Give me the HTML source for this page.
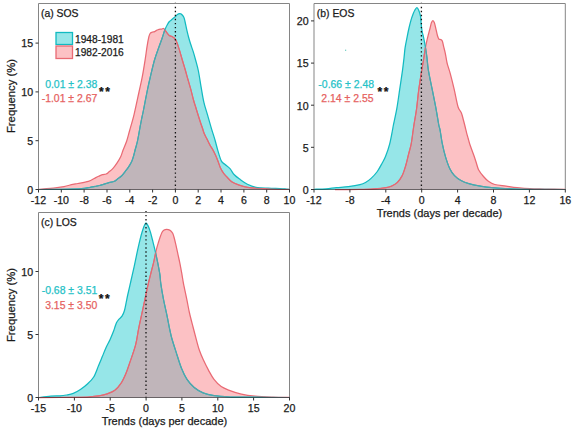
<!DOCTYPE html>
<html><head><meta charset="utf-8"><style>
html,body{margin:0;padding:0;background:#fff;}
svg{display:block;font-family:"Liberation Sans",sans-serif;}
</style></head><body>
<svg width="575" height="434" viewBox="0 0 575 434">
<rect width="575" height="434" fill="#fff"/>
<clipPath id="clipa"><path d="M38.50,189.30 C41.32,189.05 51.13,188.25 55.40,187.80 C59.67,187.35 61.20,187.18 64.10,186.60 C67.00,186.02 70.48,184.82 72.80,184.30 C75.12,183.78 75.40,183.98 78.00,183.50 C80.60,183.02 85.57,182.30 88.40,181.40 C91.23,180.50 93.28,178.95 95.00,178.10 C96.72,177.25 97.47,176.87 98.70,176.30 C99.93,175.73 101.17,175.08 102.40,174.70 C103.63,174.32 105.03,174.43 106.10,174.00 C107.17,173.57 107.65,173.03 108.80,172.10 C109.95,171.17 111.62,169.93 113.00,168.40 C114.38,166.87 115.80,164.88 117.10,162.90 C118.40,160.92 119.80,158.65 120.80,156.50 C121.80,154.35 122.12,152.58 123.10,150.00 C124.08,147.42 125.63,144.17 126.70,141.00 C127.77,137.83 128.27,135.45 129.50,131.00 C130.73,126.55 132.52,120.80 134.10,114.30 C135.68,107.80 137.63,98.27 139.00,92.00 C140.37,85.73 141.23,82.37 142.30,76.70 C143.37,71.03 144.62,62.98 145.40,58.00 C146.18,53.02 146.42,50.35 147.00,46.80 C147.58,43.25 148.38,38.92 148.90,36.70 C149.42,34.48 149.58,34.23 150.10,33.50 C150.62,32.77 151.25,32.62 152.00,32.30 C152.75,31.98 153.85,31.92 154.60,31.60 C155.35,31.28 155.77,30.78 156.50,30.40 C157.23,30.02 158.15,29.52 159.00,29.30 C159.85,29.08 160.85,29.23 161.60,29.10 C162.35,28.97 162.98,28.40 163.50,28.50 C164.02,28.60 164.18,29.07 164.70,29.70 C165.22,30.33 165.85,31.35 166.60,32.30 C167.35,33.25 168.35,34.72 169.20,35.40 C170.05,36.08 170.87,35.97 171.70,36.40 C172.53,36.83 173.47,37.32 174.20,38.00 C174.93,38.68 175.47,39.23 176.10,40.50 C176.73,41.77 177.35,43.70 178.00,45.60 C178.65,47.50 179.28,49.50 180.00,51.90 C180.72,54.30 181.42,56.98 182.30,60.00 C183.18,63.02 184.38,66.83 185.30,70.00 C186.22,73.17 186.88,75.77 187.80,79.00 C188.72,82.23 189.85,85.90 190.80,89.40 C191.75,92.90 192.67,96.98 193.50,100.00 C194.33,103.02 195.03,105.00 195.80,107.50 C196.57,110.00 197.32,112.50 198.10,115.00 C198.88,117.50 199.78,120.33 200.50,122.50 C201.22,124.67 201.78,126.17 202.40,128.00 C203.02,129.83 203.43,131.65 204.20,133.50 C204.97,135.35 206.08,137.25 207.00,139.10 C207.92,140.95 208.70,142.77 209.70,144.60 C210.70,146.43 212.00,148.27 213.00,150.10 C214.00,151.93 214.87,153.75 215.70,155.60 C216.53,157.45 217.20,159.13 218.00,161.20 C218.80,163.27 219.62,166.07 220.50,168.00 C221.38,169.93 222.30,171.38 223.30,172.80 C224.30,174.22 225.10,175.02 226.50,176.50 C227.90,177.98 229.67,180.30 231.70,181.70 C233.73,183.10 236.08,183.97 238.70,184.90 C241.32,185.83 243.92,186.73 247.40,187.30 C250.88,187.87 254.67,188.02 259.60,188.30 C264.53,188.58 272.02,188.83 277.00,189.00 C281.98,189.17 287.42,189.25 289.50,189.30 L289.50,190.00 L38.50,190.00 Z"/></clipPath>
<clipPath id="clipca"><path d="M38.50,189.50 C42.08,189.47 52.83,189.43 60.00,189.30 C67.17,189.17 76.47,189.03 81.50,188.70 C86.53,188.37 87.95,187.68 90.20,187.30 C92.45,186.92 93.43,186.70 95.00,186.40 C96.57,186.10 98.07,185.88 99.60,185.50 C101.13,185.12 102.67,184.57 104.20,184.10 C105.73,183.63 107.10,183.17 108.80,182.70 C110.50,182.23 112.87,181.98 114.40,181.30 C115.93,180.62 116.78,179.52 118.00,178.60 C119.22,177.68 120.47,177.03 121.70,175.80 C122.93,174.57 124.17,172.82 125.40,171.20 C126.63,169.58 128.02,167.78 129.10,166.10 C130.18,164.42 131.13,162.87 131.90,161.10 C132.67,159.33 133.17,157.35 133.70,155.50 C134.23,153.65 134.63,151.75 135.10,150.00 C135.57,148.25 136.07,146.67 136.50,145.00 C136.93,143.33 137.13,142.83 137.70,140.00 C138.27,137.17 139.28,131.33 139.90,128.00 C140.52,124.67 140.80,123.00 141.40,120.00 C142.00,117.00 142.53,114.83 143.50,110.00 C144.47,105.17 146.07,96.50 147.20,91.00 C148.33,85.50 149.08,82.17 150.30,77.00 C151.52,71.83 153.05,65.03 154.50,60.00 C155.95,54.97 157.72,50.47 159.00,46.80 C160.28,43.13 161.35,40.47 162.20,38.00 C163.05,35.53 163.57,33.58 164.10,32.00 C164.63,30.42 164.87,29.72 165.40,28.50 C165.93,27.28 166.63,25.87 167.30,24.70 C167.97,23.53 168.77,22.25 169.40,21.50 C170.03,20.75 170.47,20.73 171.10,20.20 C171.73,19.67 172.47,18.93 173.20,18.30 C173.93,17.67 174.80,17.03 175.50,16.40 C176.20,15.77 176.72,14.97 177.40,14.50 C178.08,14.03 178.97,13.67 179.60,13.60 C180.23,13.53 180.52,13.53 181.20,14.10 C181.88,14.67 183.07,15.77 183.70,17.00 C184.33,18.23 184.47,19.27 185.00,21.50 C185.53,23.73 186.27,27.65 186.90,30.40 C187.53,33.15 188.17,35.68 188.80,38.00 C189.43,40.32 189.95,41.98 190.70,44.30 C191.45,46.62 192.48,49.28 193.30,51.90 C194.12,54.52 194.75,56.82 195.60,60.00 C196.45,63.18 197.47,66.40 198.40,71.00 C199.33,75.60 200.28,82.38 201.20,87.60 C202.12,92.82 202.83,97.70 203.90,102.30 C204.97,106.90 206.37,110.90 207.60,115.20 C208.83,119.50 210.07,123.97 211.30,128.10 C212.53,132.23 213.92,136.28 215.00,140.00 C216.08,143.72 216.75,146.92 217.80,150.40 C218.85,153.88 220.13,158.58 221.30,160.90 C222.47,163.22 223.35,163.00 224.80,164.30 C226.25,165.60 228.42,166.95 230.00,168.70 C231.58,170.45 232.57,172.97 234.30,174.80 C236.03,176.63 238.22,178.12 240.40,179.70 C242.58,181.28 244.78,183.03 247.40,184.30 C250.02,185.57 252.62,186.65 256.10,187.30 C259.58,187.95 264.32,187.98 268.30,188.20 C272.28,188.42 277.05,188.47 280.00,188.60 C282.95,188.73 284.42,188.88 286.00,189.00 C287.58,189.12 288.92,189.25 289.50,189.30 L289.50,190.00 L38.50,190.00 Z"/></clipPath>
<path d="M38.50,189.30 C41.32,189.05 51.13,188.25 55.40,187.80 C59.67,187.35 61.20,187.18 64.10,186.60 C67.00,186.02 70.48,184.82 72.80,184.30 C75.12,183.78 75.40,183.98 78.00,183.50 C80.60,183.02 85.57,182.30 88.40,181.40 C91.23,180.50 93.28,178.95 95.00,178.10 C96.72,177.25 97.47,176.87 98.70,176.30 C99.93,175.73 101.17,175.08 102.40,174.70 C103.63,174.32 105.03,174.43 106.10,174.00 C107.17,173.57 107.65,173.03 108.80,172.10 C109.95,171.17 111.62,169.93 113.00,168.40 C114.38,166.87 115.80,164.88 117.10,162.90 C118.40,160.92 119.80,158.65 120.80,156.50 C121.80,154.35 122.12,152.58 123.10,150.00 C124.08,147.42 125.63,144.17 126.70,141.00 C127.77,137.83 128.27,135.45 129.50,131.00 C130.73,126.55 132.52,120.80 134.10,114.30 C135.68,107.80 137.63,98.27 139.00,92.00 C140.37,85.73 141.23,82.37 142.30,76.70 C143.37,71.03 144.62,62.98 145.40,58.00 C146.18,53.02 146.42,50.35 147.00,46.80 C147.58,43.25 148.38,38.92 148.90,36.70 C149.42,34.48 149.58,34.23 150.10,33.50 C150.62,32.77 151.25,32.62 152.00,32.30 C152.75,31.98 153.85,31.92 154.60,31.60 C155.35,31.28 155.77,30.78 156.50,30.40 C157.23,30.02 158.15,29.52 159.00,29.30 C159.85,29.08 160.85,29.23 161.60,29.10 C162.35,28.97 162.98,28.40 163.50,28.50 C164.02,28.60 164.18,29.07 164.70,29.70 C165.22,30.33 165.85,31.35 166.60,32.30 C167.35,33.25 168.35,34.72 169.20,35.40 C170.05,36.08 170.87,35.97 171.70,36.40 C172.53,36.83 173.47,37.32 174.20,38.00 C174.93,38.68 175.47,39.23 176.10,40.50 C176.73,41.77 177.35,43.70 178.00,45.60 C178.65,47.50 179.28,49.50 180.00,51.90 C180.72,54.30 181.42,56.98 182.30,60.00 C183.18,63.02 184.38,66.83 185.30,70.00 C186.22,73.17 186.88,75.77 187.80,79.00 C188.72,82.23 189.85,85.90 190.80,89.40 C191.75,92.90 192.67,96.98 193.50,100.00 C194.33,103.02 195.03,105.00 195.80,107.50 C196.57,110.00 197.32,112.50 198.10,115.00 C198.88,117.50 199.78,120.33 200.50,122.50 C201.22,124.67 201.78,126.17 202.40,128.00 C203.02,129.83 203.43,131.65 204.20,133.50 C204.97,135.35 206.08,137.25 207.00,139.10 C207.92,140.95 208.70,142.77 209.70,144.60 C210.70,146.43 212.00,148.27 213.00,150.10 C214.00,151.93 214.87,153.75 215.70,155.60 C216.53,157.45 217.20,159.13 218.00,161.20 C218.80,163.27 219.62,166.07 220.50,168.00 C221.38,169.93 222.30,171.38 223.30,172.80 C224.30,174.22 225.10,175.02 226.50,176.50 C227.90,177.98 229.67,180.30 231.70,181.70 C233.73,183.10 236.08,183.97 238.70,184.90 C241.32,185.83 243.92,186.73 247.40,187.30 C250.88,187.87 254.67,188.02 259.60,188.30 C264.53,188.58 272.02,188.83 277.00,189.00 C281.98,189.17 287.42,189.25 289.50,189.30 L289.50,190.00 L38.50,190.00 Z" fill="#fcc1c4"/>
<path d="M38.50,189.50 C42.08,189.47 52.83,189.43 60.00,189.30 C67.17,189.17 76.47,189.03 81.50,188.70 C86.53,188.37 87.95,187.68 90.20,187.30 C92.45,186.92 93.43,186.70 95.00,186.40 C96.57,186.10 98.07,185.88 99.60,185.50 C101.13,185.12 102.67,184.57 104.20,184.10 C105.73,183.63 107.10,183.17 108.80,182.70 C110.50,182.23 112.87,181.98 114.40,181.30 C115.93,180.62 116.78,179.52 118.00,178.60 C119.22,177.68 120.47,177.03 121.70,175.80 C122.93,174.57 124.17,172.82 125.40,171.20 C126.63,169.58 128.02,167.78 129.10,166.10 C130.18,164.42 131.13,162.87 131.90,161.10 C132.67,159.33 133.17,157.35 133.70,155.50 C134.23,153.65 134.63,151.75 135.10,150.00 C135.57,148.25 136.07,146.67 136.50,145.00 C136.93,143.33 137.13,142.83 137.70,140.00 C138.27,137.17 139.28,131.33 139.90,128.00 C140.52,124.67 140.80,123.00 141.40,120.00 C142.00,117.00 142.53,114.83 143.50,110.00 C144.47,105.17 146.07,96.50 147.20,91.00 C148.33,85.50 149.08,82.17 150.30,77.00 C151.52,71.83 153.05,65.03 154.50,60.00 C155.95,54.97 157.72,50.47 159.00,46.80 C160.28,43.13 161.35,40.47 162.20,38.00 C163.05,35.53 163.57,33.58 164.10,32.00 C164.63,30.42 164.87,29.72 165.40,28.50 C165.93,27.28 166.63,25.87 167.30,24.70 C167.97,23.53 168.77,22.25 169.40,21.50 C170.03,20.75 170.47,20.73 171.10,20.20 C171.73,19.67 172.47,18.93 173.20,18.30 C173.93,17.67 174.80,17.03 175.50,16.40 C176.20,15.77 176.72,14.97 177.40,14.50 C178.08,14.03 178.97,13.67 179.60,13.60 C180.23,13.53 180.52,13.53 181.20,14.10 C181.88,14.67 183.07,15.77 183.70,17.00 C184.33,18.23 184.47,19.27 185.00,21.50 C185.53,23.73 186.27,27.65 186.90,30.40 C187.53,33.15 188.17,35.68 188.80,38.00 C189.43,40.32 189.95,41.98 190.70,44.30 C191.45,46.62 192.48,49.28 193.30,51.90 C194.12,54.52 194.75,56.82 195.60,60.00 C196.45,63.18 197.47,66.40 198.40,71.00 C199.33,75.60 200.28,82.38 201.20,87.60 C202.12,92.82 202.83,97.70 203.90,102.30 C204.97,106.90 206.37,110.90 207.60,115.20 C208.83,119.50 210.07,123.97 211.30,128.10 C212.53,132.23 213.92,136.28 215.00,140.00 C216.08,143.72 216.75,146.92 217.80,150.40 C218.85,153.88 220.13,158.58 221.30,160.90 C222.47,163.22 223.35,163.00 224.80,164.30 C226.25,165.60 228.42,166.95 230.00,168.70 C231.58,170.45 232.57,172.97 234.30,174.80 C236.03,176.63 238.22,178.12 240.40,179.70 C242.58,181.28 244.78,183.03 247.40,184.30 C250.02,185.57 252.62,186.65 256.10,187.30 C259.58,187.95 264.32,187.98 268.30,188.20 C272.28,188.42 277.05,188.47 280.00,188.60 C282.95,188.73 284.42,188.88 286.00,189.00 C287.58,189.12 288.92,189.25 289.50,189.30 L289.50,190.00 L38.50,190.00 Z" fill="#96e6e8"/>
<path d="M38.50,189.50 C42.08,189.47 52.83,189.43 60.00,189.30 C67.17,189.17 76.47,189.03 81.50,188.70 C86.53,188.37 87.95,187.68 90.20,187.30 C92.45,186.92 93.43,186.70 95.00,186.40 C96.57,186.10 98.07,185.88 99.60,185.50 C101.13,185.12 102.67,184.57 104.20,184.10 C105.73,183.63 107.10,183.17 108.80,182.70 C110.50,182.23 112.87,181.98 114.40,181.30 C115.93,180.62 116.78,179.52 118.00,178.60 C119.22,177.68 120.47,177.03 121.70,175.80 C122.93,174.57 124.17,172.82 125.40,171.20 C126.63,169.58 128.02,167.78 129.10,166.10 C130.18,164.42 131.13,162.87 131.90,161.10 C132.67,159.33 133.17,157.35 133.70,155.50 C134.23,153.65 134.63,151.75 135.10,150.00 C135.57,148.25 136.07,146.67 136.50,145.00 C136.93,143.33 137.13,142.83 137.70,140.00 C138.27,137.17 139.28,131.33 139.90,128.00 C140.52,124.67 140.80,123.00 141.40,120.00 C142.00,117.00 142.53,114.83 143.50,110.00 C144.47,105.17 146.07,96.50 147.20,91.00 C148.33,85.50 149.08,82.17 150.30,77.00 C151.52,71.83 153.05,65.03 154.50,60.00 C155.95,54.97 157.72,50.47 159.00,46.80 C160.28,43.13 161.35,40.47 162.20,38.00 C163.05,35.53 163.57,33.58 164.10,32.00 C164.63,30.42 164.87,29.72 165.40,28.50 C165.93,27.28 166.63,25.87 167.30,24.70 C167.97,23.53 168.77,22.25 169.40,21.50 C170.03,20.75 170.47,20.73 171.10,20.20 C171.73,19.67 172.47,18.93 173.20,18.30 C173.93,17.67 174.80,17.03 175.50,16.40 C176.20,15.77 176.72,14.97 177.40,14.50 C178.08,14.03 178.97,13.67 179.60,13.60 C180.23,13.53 180.52,13.53 181.20,14.10 C181.88,14.67 183.07,15.77 183.70,17.00 C184.33,18.23 184.47,19.27 185.00,21.50 C185.53,23.73 186.27,27.65 186.90,30.40 C187.53,33.15 188.17,35.68 188.80,38.00 C189.43,40.32 189.95,41.98 190.70,44.30 C191.45,46.62 192.48,49.28 193.30,51.90 C194.12,54.52 194.75,56.82 195.60,60.00 C196.45,63.18 197.47,66.40 198.40,71.00 C199.33,75.60 200.28,82.38 201.20,87.60 C202.12,92.82 202.83,97.70 203.90,102.30 C204.97,106.90 206.37,110.90 207.60,115.20 C208.83,119.50 210.07,123.97 211.30,128.10 C212.53,132.23 213.92,136.28 215.00,140.00 C216.08,143.72 216.75,146.92 217.80,150.40 C218.85,153.88 220.13,158.58 221.30,160.90 C222.47,163.22 223.35,163.00 224.80,164.30 C226.25,165.60 228.42,166.95 230.00,168.70 C231.58,170.45 232.57,172.97 234.30,174.80 C236.03,176.63 238.22,178.12 240.40,179.70 C242.58,181.28 244.78,183.03 247.40,184.30 C250.02,185.57 252.62,186.65 256.10,187.30 C259.58,187.95 264.32,187.98 268.30,188.20 C272.28,188.42 277.05,188.47 280.00,188.60 C282.95,188.73 284.42,188.88 286.00,189.00 C287.58,189.12 288.92,189.25 289.50,189.30 L289.50,190.00 L38.50,190.00 Z" fill="#c0b5ba" clip-path="url(#clipa)"/>
<path d="M38.50,189.30 C41.32,189.05 51.13,188.25 55.40,187.80 C59.67,187.35 61.20,187.18 64.10,186.60 C67.00,186.02 70.48,184.82 72.80,184.30 C75.12,183.78 75.40,183.98 78.00,183.50 C80.60,183.02 85.57,182.30 88.40,181.40 C91.23,180.50 93.28,178.95 95.00,178.10 C96.72,177.25 97.47,176.87 98.70,176.30 C99.93,175.73 101.17,175.08 102.40,174.70 C103.63,174.32 105.03,174.43 106.10,174.00 C107.17,173.57 107.65,173.03 108.80,172.10 C109.95,171.17 111.62,169.93 113.00,168.40 C114.38,166.87 115.80,164.88 117.10,162.90 C118.40,160.92 119.80,158.65 120.80,156.50 C121.80,154.35 122.12,152.58 123.10,150.00 C124.08,147.42 125.63,144.17 126.70,141.00 C127.77,137.83 128.27,135.45 129.50,131.00 C130.73,126.55 132.52,120.80 134.10,114.30 C135.68,107.80 137.63,98.27 139.00,92.00 C140.37,85.73 141.23,82.37 142.30,76.70 C143.37,71.03 144.62,62.98 145.40,58.00 C146.18,53.02 146.42,50.35 147.00,46.80 C147.58,43.25 148.38,38.92 148.90,36.70 C149.42,34.48 149.58,34.23 150.10,33.50 C150.62,32.77 151.25,32.62 152.00,32.30 C152.75,31.98 153.85,31.92 154.60,31.60 C155.35,31.28 155.77,30.78 156.50,30.40 C157.23,30.02 158.15,29.52 159.00,29.30 C159.85,29.08 160.85,29.23 161.60,29.10 C162.35,28.97 162.98,28.40 163.50,28.50 C164.02,28.60 164.18,29.07 164.70,29.70 C165.22,30.33 165.85,31.35 166.60,32.30 C167.35,33.25 168.35,34.72 169.20,35.40 C170.05,36.08 170.87,35.97 171.70,36.40 C172.53,36.83 173.47,37.32 174.20,38.00 C174.93,38.68 175.47,39.23 176.10,40.50 C176.73,41.77 177.35,43.70 178.00,45.60 C178.65,47.50 179.28,49.50 180.00,51.90 C180.72,54.30 181.42,56.98 182.30,60.00 C183.18,63.02 184.38,66.83 185.30,70.00 C186.22,73.17 186.88,75.77 187.80,79.00 C188.72,82.23 189.85,85.90 190.80,89.40 C191.75,92.90 192.67,96.98 193.50,100.00 C194.33,103.02 195.03,105.00 195.80,107.50 C196.57,110.00 197.32,112.50 198.10,115.00 C198.88,117.50 199.78,120.33 200.50,122.50 C201.22,124.67 201.78,126.17 202.40,128.00 C203.02,129.83 203.43,131.65 204.20,133.50 C204.97,135.35 206.08,137.25 207.00,139.10 C207.92,140.95 208.70,142.77 209.70,144.60 C210.70,146.43 212.00,148.27 213.00,150.10 C214.00,151.93 214.87,153.75 215.70,155.60 C216.53,157.45 217.20,159.13 218.00,161.20 C218.80,163.27 219.62,166.07 220.50,168.00 C221.38,169.93 222.30,171.38 223.30,172.80 C224.30,174.22 225.10,175.02 226.50,176.50 C227.90,177.98 229.67,180.30 231.70,181.70 C233.73,183.10 236.08,183.97 238.70,184.90 C241.32,185.83 243.92,186.73 247.40,187.30 C250.88,187.87 254.67,188.02 259.60,188.30 C264.53,188.58 272.02,188.83 277.00,189.00 C281.98,189.17 287.42,189.25 289.50,189.30" fill="none" stroke="#e96a74" stroke-width="1.25"/>
<path d="M38.50,189.50 C42.08,189.47 52.83,189.43 60.00,189.30 C67.17,189.17 76.47,189.03 81.50,188.70 C86.53,188.37 87.95,187.68 90.20,187.30 C92.45,186.92 93.43,186.70 95.00,186.40 C96.57,186.10 98.07,185.88 99.60,185.50 C101.13,185.12 102.67,184.57 104.20,184.10 C105.73,183.63 107.10,183.17 108.80,182.70 C110.50,182.23 112.87,181.98 114.40,181.30 C115.93,180.62 116.78,179.52 118.00,178.60 C119.22,177.68 120.47,177.03 121.70,175.80 C122.93,174.57 124.17,172.82 125.40,171.20 C126.63,169.58 128.02,167.78 129.10,166.10 C130.18,164.42 131.13,162.87 131.90,161.10 C132.67,159.33 133.17,157.35 133.70,155.50 C134.23,153.65 134.63,151.75 135.10,150.00 C135.57,148.25 136.07,146.67 136.50,145.00 C136.93,143.33 137.13,142.83 137.70,140.00 C138.27,137.17 139.28,131.33 139.90,128.00 C140.52,124.67 140.80,123.00 141.40,120.00 C142.00,117.00 142.53,114.83 143.50,110.00 C144.47,105.17 146.07,96.50 147.20,91.00 C148.33,85.50 149.08,82.17 150.30,77.00 C151.52,71.83 153.05,65.03 154.50,60.00 C155.95,54.97 157.72,50.47 159.00,46.80 C160.28,43.13 161.35,40.47 162.20,38.00 C163.05,35.53 163.57,33.58 164.10,32.00 C164.63,30.42 164.87,29.72 165.40,28.50 C165.93,27.28 166.63,25.87 167.30,24.70 C167.97,23.53 168.77,22.25 169.40,21.50 C170.03,20.75 170.47,20.73 171.10,20.20 C171.73,19.67 172.47,18.93 173.20,18.30 C173.93,17.67 174.80,17.03 175.50,16.40 C176.20,15.77 176.72,14.97 177.40,14.50 C178.08,14.03 178.97,13.67 179.60,13.60 C180.23,13.53 180.52,13.53 181.20,14.10 C181.88,14.67 183.07,15.77 183.70,17.00 C184.33,18.23 184.47,19.27 185.00,21.50 C185.53,23.73 186.27,27.65 186.90,30.40 C187.53,33.15 188.17,35.68 188.80,38.00 C189.43,40.32 189.95,41.98 190.70,44.30 C191.45,46.62 192.48,49.28 193.30,51.90 C194.12,54.52 194.75,56.82 195.60,60.00 C196.45,63.18 197.47,66.40 198.40,71.00 C199.33,75.60 200.28,82.38 201.20,87.60 C202.12,92.82 202.83,97.70 203.90,102.30 C204.97,106.90 206.37,110.90 207.60,115.20 C208.83,119.50 210.07,123.97 211.30,128.10 C212.53,132.23 213.92,136.28 215.00,140.00 C216.08,143.72 216.75,146.92 217.80,150.40 C218.85,153.88 220.13,158.58 221.30,160.90 C222.47,163.22 223.35,163.00 224.80,164.30 C226.25,165.60 228.42,166.95 230.00,168.70 C231.58,170.45 232.57,172.97 234.30,174.80 C236.03,176.63 238.22,178.12 240.40,179.70 C242.58,181.28 244.78,183.03 247.40,184.30 C250.02,185.57 252.62,186.65 256.10,187.30 C259.58,187.95 264.32,187.98 268.30,188.20 C272.28,188.42 277.05,188.47 280.00,188.60 C282.95,188.73 284.42,188.88 286.00,189.00 C287.58,189.12 288.92,189.25 289.50,189.30" fill="none" stroke="#12bac1" stroke-width="1.25"/>
<path d="M38.50,189.50 C42.08,189.47 52.83,189.43 60.00,189.30 C67.17,189.17 76.47,189.03 81.50,188.70 C86.53,188.37 87.95,187.68 90.20,187.30 C92.45,186.92 93.43,186.70 95.00,186.40 C96.57,186.10 98.07,185.88 99.60,185.50 C101.13,185.12 102.67,184.57 104.20,184.10 C105.73,183.63 107.10,183.17 108.80,182.70 C110.50,182.23 112.87,181.98 114.40,181.30 C115.93,180.62 116.78,179.52 118.00,178.60 C119.22,177.68 120.47,177.03 121.70,175.80 C122.93,174.57 124.17,172.82 125.40,171.20 C126.63,169.58 128.02,167.78 129.10,166.10 C130.18,164.42 131.13,162.87 131.90,161.10 C132.67,159.33 133.17,157.35 133.70,155.50 C134.23,153.65 134.63,151.75 135.10,150.00 C135.57,148.25 136.07,146.67 136.50,145.00 C136.93,143.33 137.13,142.83 137.70,140.00 C138.27,137.17 139.28,131.33 139.90,128.00 C140.52,124.67 140.80,123.00 141.40,120.00 C142.00,117.00 142.53,114.83 143.50,110.00 C144.47,105.17 146.07,96.50 147.20,91.00 C148.33,85.50 149.08,82.17 150.30,77.00 C151.52,71.83 153.05,65.03 154.50,60.00 C155.95,54.97 157.72,50.47 159.00,46.80 C160.28,43.13 161.35,40.47 162.20,38.00 C163.05,35.53 163.57,33.58 164.10,32.00 C164.63,30.42 164.87,29.72 165.40,28.50 C165.93,27.28 166.63,25.87 167.30,24.70 C167.97,23.53 168.77,22.25 169.40,21.50 C170.03,20.75 170.47,20.73 171.10,20.20 C171.73,19.67 172.47,18.93 173.20,18.30 C173.93,17.67 174.80,17.03 175.50,16.40 C176.20,15.77 176.72,14.97 177.40,14.50 C178.08,14.03 178.97,13.67 179.60,13.60 C180.23,13.53 180.52,13.53 181.20,14.10 C181.88,14.67 183.07,15.77 183.70,17.00 C184.33,18.23 184.47,19.27 185.00,21.50 C185.53,23.73 186.27,27.65 186.90,30.40 C187.53,33.15 188.17,35.68 188.80,38.00 C189.43,40.32 189.95,41.98 190.70,44.30 C191.45,46.62 192.48,49.28 193.30,51.90 C194.12,54.52 194.75,56.82 195.60,60.00 C196.45,63.18 197.47,66.40 198.40,71.00 C199.33,75.60 200.28,82.38 201.20,87.60 C202.12,92.82 202.83,97.70 203.90,102.30 C204.97,106.90 206.37,110.90 207.60,115.20 C208.83,119.50 210.07,123.97 211.30,128.10 C212.53,132.23 213.92,136.28 215.00,140.00 C216.08,143.72 216.75,146.92 217.80,150.40 C218.85,153.88 220.13,158.58 221.30,160.90 C222.47,163.22 223.35,163.00 224.80,164.30 C226.25,165.60 228.42,166.95 230.00,168.70 C231.58,170.45 232.57,172.97 234.30,174.80 C236.03,176.63 238.22,178.12 240.40,179.70 C242.58,181.28 244.78,183.03 247.40,184.30 C250.02,185.57 252.62,186.65 256.10,187.30 C259.58,187.95 264.32,187.98 268.30,188.20 C272.28,188.42 277.05,188.47 280.00,188.60 C282.95,188.73 284.42,188.88 286.00,189.00 C287.58,189.12 288.92,189.25 289.50,189.30" fill="none" stroke="#58a2a8" stroke-width="1.05" clip-path="url(#clipa)"/>
<path d="M38.50,189.30 C41.32,189.05 51.13,188.25 55.40,187.80 C59.67,187.35 61.20,187.18 64.10,186.60 C67.00,186.02 70.48,184.82 72.80,184.30 C75.12,183.78 75.40,183.98 78.00,183.50 C80.60,183.02 85.57,182.30 88.40,181.40 C91.23,180.50 93.28,178.95 95.00,178.10 C96.72,177.25 97.47,176.87 98.70,176.30 C99.93,175.73 101.17,175.08 102.40,174.70 C103.63,174.32 105.03,174.43 106.10,174.00 C107.17,173.57 107.65,173.03 108.80,172.10 C109.95,171.17 111.62,169.93 113.00,168.40 C114.38,166.87 115.80,164.88 117.10,162.90 C118.40,160.92 119.80,158.65 120.80,156.50 C121.80,154.35 122.12,152.58 123.10,150.00 C124.08,147.42 125.63,144.17 126.70,141.00 C127.77,137.83 128.27,135.45 129.50,131.00 C130.73,126.55 132.52,120.80 134.10,114.30 C135.68,107.80 137.63,98.27 139.00,92.00 C140.37,85.73 141.23,82.37 142.30,76.70 C143.37,71.03 144.62,62.98 145.40,58.00 C146.18,53.02 146.42,50.35 147.00,46.80 C147.58,43.25 148.38,38.92 148.90,36.70 C149.42,34.48 149.58,34.23 150.10,33.50 C150.62,32.77 151.25,32.62 152.00,32.30 C152.75,31.98 153.85,31.92 154.60,31.60 C155.35,31.28 155.77,30.78 156.50,30.40 C157.23,30.02 158.15,29.52 159.00,29.30 C159.85,29.08 160.85,29.23 161.60,29.10 C162.35,28.97 162.98,28.40 163.50,28.50 C164.02,28.60 164.18,29.07 164.70,29.70 C165.22,30.33 165.85,31.35 166.60,32.30 C167.35,33.25 168.35,34.72 169.20,35.40 C170.05,36.08 170.87,35.97 171.70,36.40 C172.53,36.83 173.47,37.32 174.20,38.00 C174.93,38.68 175.47,39.23 176.10,40.50 C176.73,41.77 177.35,43.70 178.00,45.60 C178.65,47.50 179.28,49.50 180.00,51.90 C180.72,54.30 181.42,56.98 182.30,60.00 C183.18,63.02 184.38,66.83 185.30,70.00 C186.22,73.17 186.88,75.77 187.80,79.00 C188.72,82.23 189.85,85.90 190.80,89.40 C191.75,92.90 192.67,96.98 193.50,100.00 C194.33,103.02 195.03,105.00 195.80,107.50 C196.57,110.00 197.32,112.50 198.10,115.00 C198.88,117.50 199.78,120.33 200.50,122.50 C201.22,124.67 201.78,126.17 202.40,128.00 C203.02,129.83 203.43,131.65 204.20,133.50 C204.97,135.35 206.08,137.25 207.00,139.10 C207.92,140.95 208.70,142.77 209.70,144.60 C210.70,146.43 212.00,148.27 213.00,150.10 C214.00,151.93 214.87,153.75 215.70,155.60 C216.53,157.45 217.20,159.13 218.00,161.20 C218.80,163.27 219.62,166.07 220.50,168.00 C221.38,169.93 222.30,171.38 223.30,172.80 C224.30,174.22 225.10,175.02 226.50,176.50 C227.90,177.98 229.67,180.30 231.70,181.70 C233.73,183.10 236.08,183.97 238.70,184.90 C241.32,185.83 243.92,186.73 247.40,187.30 C250.88,187.87 254.67,188.02 259.60,188.30 C264.53,188.58 272.02,188.83 277.00,189.00 C281.98,189.17 287.42,189.25 289.50,189.30" fill="none" stroke="#e26a74" stroke-width="1.05" clip-path="url(#clipca)"/>
<clipPath id="clipb"><path d="M335.00,189.60 C338.98,189.57 352.43,189.52 358.90,189.40 C365.37,189.28 369.32,189.18 373.80,188.90 C378.28,188.62 382.80,188.18 385.80,187.70 C388.80,187.22 389.88,186.87 391.80,186.00 C393.72,185.13 395.57,184.23 397.30,182.50 C399.03,180.77 400.82,178.35 402.20,175.60 C403.58,172.85 404.57,169.45 405.60,166.00 C406.63,162.55 407.47,158.60 408.40,154.90 C409.33,151.20 410.40,147.95 411.20,143.80 C412.00,139.65 412.67,133.63 413.20,130.00 C413.73,126.37 413.83,125.57 414.40,122.00 C414.97,118.43 415.87,114.03 416.60,108.60 C417.33,103.17 417.95,95.78 418.80,89.40 C419.65,83.02 420.92,75.20 421.70,70.30 C422.48,65.40 422.92,63.57 423.50,60.00 C424.08,56.43 424.65,52.05 425.20,48.90 C425.75,45.75 426.27,43.50 426.80,41.10 C427.33,38.70 427.85,36.68 428.40,34.50 C428.95,32.32 429.60,29.97 430.10,28.00 C430.60,26.03 430.93,23.95 431.40,22.70 C431.87,21.45 432.40,20.50 432.90,20.50 C433.40,20.50 433.88,21.23 434.40,22.70 C434.92,24.17 435.48,27.12 436.00,29.30 C436.52,31.48 437.02,34.17 437.50,35.80 C437.98,37.43 438.38,38.48 438.90,39.10 C439.42,39.72 440.03,39.17 440.60,39.50 C441.17,39.83 441.80,39.97 442.30,41.10 C442.80,42.23 443.12,44.33 443.60,46.30 C444.08,48.27 444.72,50.62 445.20,52.90 C445.68,55.18 446.12,58.05 446.50,60.00 C446.88,61.95 446.85,62.25 447.50,64.60 C448.15,66.95 449.28,69.97 450.40,74.10 C451.52,78.23 452.93,83.97 454.20,89.40 C455.47,94.83 456.80,102.77 458.00,106.70 C459.20,110.63 460.50,110.78 461.40,113.00 C462.30,115.22 462.77,117.67 463.40,120.00 C464.03,122.33 464.67,124.85 465.20,127.00 C465.73,129.15 466.10,130.98 466.60,132.90 C467.10,134.82 467.67,136.62 468.20,138.50 C468.73,140.38 468.85,141.37 469.80,144.20 C470.75,147.03 472.78,152.28 473.90,155.50 C475.02,158.72 475.70,161.08 476.50,163.50 C477.30,165.92 477.53,167.83 478.70,170.00 C479.87,172.17 481.88,174.62 483.50,176.50 C485.12,178.38 486.52,179.97 488.40,181.30 C490.28,182.63 491.85,183.70 494.80,184.50 C497.75,185.30 502.38,185.58 506.10,186.10 C509.82,186.62 513.12,187.17 517.10,187.60 C521.08,188.03 525.38,188.47 530.00,188.70 C534.62,188.93 538.92,188.90 544.80,189.00 C550.68,189.10 561.88,189.25 565.30,189.30 L565.30,190.00 L335.00,190.00 Z"/></clipPath>
<clipPath id="clipcb"><path d="M314.00,189.30 C316.00,189.23 322.27,189.17 326.00,188.90 C329.73,188.63 332.67,188.08 336.40,187.70 C340.13,187.32 344.47,187.12 348.40,186.60 C352.33,186.08 357.15,185.28 360.00,184.60 C362.85,183.92 363.65,183.53 365.50,182.50 C367.35,181.47 369.13,180.23 371.10,178.40 C373.07,176.57 375.47,174.03 377.30,171.50 C379.13,168.97 380.72,165.73 382.10,163.20 C383.48,160.67 384.33,159.53 385.60,156.30 C386.87,153.07 388.55,148.18 389.70,143.80 C390.85,139.42 391.88,133.13 392.50,130.00 C393.12,126.87 392.68,128.57 393.40,125.00 C394.12,121.43 395.75,114.53 396.80,108.60 C397.85,102.67 398.75,95.78 399.70,89.40 C400.65,83.02 401.78,75.53 402.50,70.30 C403.22,65.07 403.57,61.77 404.00,58.00 C404.43,54.23 404.58,51.18 405.10,47.70 C405.62,44.22 406.45,40.38 407.10,37.10 C407.75,33.82 408.35,30.83 409.00,28.00 C409.65,25.17 410.33,22.40 411.00,20.10 C411.67,17.80 412.37,15.85 413.00,14.20 C413.63,12.55 414.15,11.30 414.80,10.20 C415.45,9.10 416.25,7.60 416.90,7.60 C417.55,7.60 418.10,8.78 418.70,10.20 C419.30,11.62 420.07,13.58 420.50,16.10 C420.93,18.62 421.02,22.67 421.30,25.30 C421.58,27.93 421.83,29.93 422.20,31.90 C422.57,33.87 423.07,35.13 423.50,37.10 C423.93,39.07 424.37,41.28 424.80,43.70 C425.23,46.12 425.73,49.22 426.10,51.60 C426.47,53.98 426.62,54.88 427.00,58.00 C427.38,61.12 427.53,65.07 428.40,70.30 C429.27,75.53 430.93,83.02 432.20,89.40 C433.47,95.78 434.90,102.67 436.00,108.60 C437.10,114.53 438.13,121.48 438.80,125.00 C439.47,128.52 439.40,126.50 440.00,129.70 C440.60,132.90 441.47,139.63 442.40,144.20 C443.33,148.77 444.38,153.07 445.60,157.10 C446.82,161.13 448.22,165.32 449.70,168.40 C451.18,171.48 452.62,173.58 454.50,175.60 C456.38,177.62 458.58,179.15 461.00,180.50 C463.42,181.85 465.78,182.77 469.00,183.70 C472.22,184.63 476.53,185.45 480.30,186.10 C484.07,186.75 485.77,187.12 491.60,187.60 C497.43,188.08 508.28,188.72 515.30,189.00 C522.32,189.28 525.37,189.22 533.70,189.30 C542.03,189.38 560.03,189.47 565.30,189.50 L565.30,190.00 L314.00,190.00 Z"/></clipPath>
<path d="M335.00,189.60 C338.98,189.57 352.43,189.52 358.90,189.40 C365.37,189.28 369.32,189.18 373.80,188.90 C378.28,188.62 382.80,188.18 385.80,187.70 C388.80,187.22 389.88,186.87 391.80,186.00 C393.72,185.13 395.57,184.23 397.30,182.50 C399.03,180.77 400.82,178.35 402.20,175.60 C403.58,172.85 404.57,169.45 405.60,166.00 C406.63,162.55 407.47,158.60 408.40,154.90 C409.33,151.20 410.40,147.95 411.20,143.80 C412.00,139.65 412.67,133.63 413.20,130.00 C413.73,126.37 413.83,125.57 414.40,122.00 C414.97,118.43 415.87,114.03 416.60,108.60 C417.33,103.17 417.95,95.78 418.80,89.40 C419.65,83.02 420.92,75.20 421.70,70.30 C422.48,65.40 422.92,63.57 423.50,60.00 C424.08,56.43 424.65,52.05 425.20,48.90 C425.75,45.75 426.27,43.50 426.80,41.10 C427.33,38.70 427.85,36.68 428.40,34.50 C428.95,32.32 429.60,29.97 430.10,28.00 C430.60,26.03 430.93,23.95 431.40,22.70 C431.87,21.45 432.40,20.50 432.90,20.50 C433.40,20.50 433.88,21.23 434.40,22.70 C434.92,24.17 435.48,27.12 436.00,29.30 C436.52,31.48 437.02,34.17 437.50,35.80 C437.98,37.43 438.38,38.48 438.90,39.10 C439.42,39.72 440.03,39.17 440.60,39.50 C441.17,39.83 441.80,39.97 442.30,41.10 C442.80,42.23 443.12,44.33 443.60,46.30 C444.08,48.27 444.72,50.62 445.20,52.90 C445.68,55.18 446.12,58.05 446.50,60.00 C446.88,61.95 446.85,62.25 447.50,64.60 C448.15,66.95 449.28,69.97 450.40,74.10 C451.52,78.23 452.93,83.97 454.20,89.40 C455.47,94.83 456.80,102.77 458.00,106.70 C459.20,110.63 460.50,110.78 461.40,113.00 C462.30,115.22 462.77,117.67 463.40,120.00 C464.03,122.33 464.67,124.85 465.20,127.00 C465.73,129.15 466.10,130.98 466.60,132.90 C467.10,134.82 467.67,136.62 468.20,138.50 C468.73,140.38 468.85,141.37 469.80,144.20 C470.75,147.03 472.78,152.28 473.90,155.50 C475.02,158.72 475.70,161.08 476.50,163.50 C477.30,165.92 477.53,167.83 478.70,170.00 C479.87,172.17 481.88,174.62 483.50,176.50 C485.12,178.38 486.52,179.97 488.40,181.30 C490.28,182.63 491.85,183.70 494.80,184.50 C497.75,185.30 502.38,185.58 506.10,186.10 C509.82,186.62 513.12,187.17 517.10,187.60 C521.08,188.03 525.38,188.47 530.00,188.70 C534.62,188.93 538.92,188.90 544.80,189.00 C550.68,189.10 561.88,189.25 565.30,189.30 L565.30,190.00 L335.00,190.00 Z" fill="#fcc1c4"/>
<path d="M314.00,189.30 C316.00,189.23 322.27,189.17 326.00,188.90 C329.73,188.63 332.67,188.08 336.40,187.70 C340.13,187.32 344.47,187.12 348.40,186.60 C352.33,186.08 357.15,185.28 360.00,184.60 C362.85,183.92 363.65,183.53 365.50,182.50 C367.35,181.47 369.13,180.23 371.10,178.40 C373.07,176.57 375.47,174.03 377.30,171.50 C379.13,168.97 380.72,165.73 382.10,163.20 C383.48,160.67 384.33,159.53 385.60,156.30 C386.87,153.07 388.55,148.18 389.70,143.80 C390.85,139.42 391.88,133.13 392.50,130.00 C393.12,126.87 392.68,128.57 393.40,125.00 C394.12,121.43 395.75,114.53 396.80,108.60 C397.85,102.67 398.75,95.78 399.70,89.40 C400.65,83.02 401.78,75.53 402.50,70.30 C403.22,65.07 403.57,61.77 404.00,58.00 C404.43,54.23 404.58,51.18 405.10,47.70 C405.62,44.22 406.45,40.38 407.10,37.10 C407.75,33.82 408.35,30.83 409.00,28.00 C409.65,25.17 410.33,22.40 411.00,20.10 C411.67,17.80 412.37,15.85 413.00,14.20 C413.63,12.55 414.15,11.30 414.80,10.20 C415.45,9.10 416.25,7.60 416.90,7.60 C417.55,7.60 418.10,8.78 418.70,10.20 C419.30,11.62 420.07,13.58 420.50,16.10 C420.93,18.62 421.02,22.67 421.30,25.30 C421.58,27.93 421.83,29.93 422.20,31.90 C422.57,33.87 423.07,35.13 423.50,37.10 C423.93,39.07 424.37,41.28 424.80,43.70 C425.23,46.12 425.73,49.22 426.10,51.60 C426.47,53.98 426.62,54.88 427.00,58.00 C427.38,61.12 427.53,65.07 428.40,70.30 C429.27,75.53 430.93,83.02 432.20,89.40 C433.47,95.78 434.90,102.67 436.00,108.60 C437.10,114.53 438.13,121.48 438.80,125.00 C439.47,128.52 439.40,126.50 440.00,129.70 C440.60,132.90 441.47,139.63 442.40,144.20 C443.33,148.77 444.38,153.07 445.60,157.10 C446.82,161.13 448.22,165.32 449.70,168.40 C451.18,171.48 452.62,173.58 454.50,175.60 C456.38,177.62 458.58,179.15 461.00,180.50 C463.42,181.85 465.78,182.77 469.00,183.70 C472.22,184.63 476.53,185.45 480.30,186.10 C484.07,186.75 485.77,187.12 491.60,187.60 C497.43,188.08 508.28,188.72 515.30,189.00 C522.32,189.28 525.37,189.22 533.70,189.30 C542.03,189.38 560.03,189.47 565.30,189.50 L565.30,190.00 L314.00,190.00 Z" fill="#96e6e8"/>
<path d="M314.00,189.30 C316.00,189.23 322.27,189.17 326.00,188.90 C329.73,188.63 332.67,188.08 336.40,187.70 C340.13,187.32 344.47,187.12 348.40,186.60 C352.33,186.08 357.15,185.28 360.00,184.60 C362.85,183.92 363.65,183.53 365.50,182.50 C367.35,181.47 369.13,180.23 371.10,178.40 C373.07,176.57 375.47,174.03 377.30,171.50 C379.13,168.97 380.72,165.73 382.10,163.20 C383.48,160.67 384.33,159.53 385.60,156.30 C386.87,153.07 388.55,148.18 389.70,143.80 C390.85,139.42 391.88,133.13 392.50,130.00 C393.12,126.87 392.68,128.57 393.40,125.00 C394.12,121.43 395.75,114.53 396.80,108.60 C397.85,102.67 398.75,95.78 399.70,89.40 C400.65,83.02 401.78,75.53 402.50,70.30 C403.22,65.07 403.57,61.77 404.00,58.00 C404.43,54.23 404.58,51.18 405.10,47.70 C405.62,44.22 406.45,40.38 407.10,37.10 C407.75,33.82 408.35,30.83 409.00,28.00 C409.65,25.17 410.33,22.40 411.00,20.10 C411.67,17.80 412.37,15.85 413.00,14.20 C413.63,12.55 414.15,11.30 414.80,10.20 C415.45,9.10 416.25,7.60 416.90,7.60 C417.55,7.60 418.10,8.78 418.70,10.20 C419.30,11.62 420.07,13.58 420.50,16.10 C420.93,18.62 421.02,22.67 421.30,25.30 C421.58,27.93 421.83,29.93 422.20,31.90 C422.57,33.87 423.07,35.13 423.50,37.10 C423.93,39.07 424.37,41.28 424.80,43.70 C425.23,46.12 425.73,49.22 426.10,51.60 C426.47,53.98 426.62,54.88 427.00,58.00 C427.38,61.12 427.53,65.07 428.40,70.30 C429.27,75.53 430.93,83.02 432.20,89.40 C433.47,95.78 434.90,102.67 436.00,108.60 C437.10,114.53 438.13,121.48 438.80,125.00 C439.47,128.52 439.40,126.50 440.00,129.70 C440.60,132.90 441.47,139.63 442.40,144.20 C443.33,148.77 444.38,153.07 445.60,157.10 C446.82,161.13 448.22,165.32 449.70,168.40 C451.18,171.48 452.62,173.58 454.50,175.60 C456.38,177.62 458.58,179.15 461.00,180.50 C463.42,181.85 465.78,182.77 469.00,183.70 C472.22,184.63 476.53,185.45 480.30,186.10 C484.07,186.75 485.77,187.12 491.60,187.60 C497.43,188.08 508.28,188.72 515.30,189.00 C522.32,189.28 525.37,189.22 533.70,189.30 C542.03,189.38 560.03,189.47 565.30,189.50 L565.30,190.00 L314.00,190.00 Z" fill="#c0b5ba" clip-path="url(#clipb)"/>
<path d="M335.00,189.60 C338.98,189.57 352.43,189.52 358.90,189.40 C365.37,189.28 369.32,189.18 373.80,188.90 C378.28,188.62 382.80,188.18 385.80,187.70 C388.80,187.22 389.88,186.87 391.80,186.00 C393.72,185.13 395.57,184.23 397.30,182.50 C399.03,180.77 400.82,178.35 402.20,175.60 C403.58,172.85 404.57,169.45 405.60,166.00 C406.63,162.55 407.47,158.60 408.40,154.90 C409.33,151.20 410.40,147.95 411.20,143.80 C412.00,139.65 412.67,133.63 413.20,130.00 C413.73,126.37 413.83,125.57 414.40,122.00 C414.97,118.43 415.87,114.03 416.60,108.60 C417.33,103.17 417.95,95.78 418.80,89.40 C419.65,83.02 420.92,75.20 421.70,70.30 C422.48,65.40 422.92,63.57 423.50,60.00 C424.08,56.43 424.65,52.05 425.20,48.90 C425.75,45.75 426.27,43.50 426.80,41.10 C427.33,38.70 427.85,36.68 428.40,34.50 C428.95,32.32 429.60,29.97 430.10,28.00 C430.60,26.03 430.93,23.95 431.40,22.70 C431.87,21.45 432.40,20.50 432.90,20.50 C433.40,20.50 433.88,21.23 434.40,22.70 C434.92,24.17 435.48,27.12 436.00,29.30 C436.52,31.48 437.02,34.17 437.50,35.80 C437.98,37.43 438.38,38.48 438.90,39.10 C439.42,39.72 440.03,39.17 440.60,39.50 C441.17,39.83 441.80,39.97 442.30,41.10 C442.80,42.23 443.12,44.33 443.60,46.30 C444.08,48.27 444.72,50.62 445.20,52.90 C445.68,55.18 446.12,58.05 446.50,60.00 C446.88,61.95 446.85,62.25 447.50,64.60 C448.15,66.95 449.28,69.97 450.40,74.10 C451.52,78.23 452.93,83.97 454.20,89.40 C455.47,94.83 456.80,102.77 458.00,106.70 C459.20,110.63 460.50,110.78 461.40,113.00 C462.30,115.22 462.77,117.67 463.40,120.00 C464.03,122.33 464.67,124.85 465.20,127.00 C465.73,129.15 466.10,130.98 466.60,132.90 C467.10,134.82 467.67,136.62 468.20,138.50 C468.73,140.38 468.85,141.37 469.80,144.20 C470.75,147.03 472.78,152.28 473.90,155.50 C475.02,158.72 475.70,161.08 476.50,163.50 C477.30,165.92 477.53,167.83 478.70,170.00 C479.87,172.17 481.88,174.62 483.50,176.50 C485.12,178.38 486.52,179.97 488.40,181.30 C490.28,182.63 491.85,183.70 494.80,184.50 C497.75,185.30 502.38,185.58 506.10,186.10 C509.82,186.62 513.12,187.17 517.10,187.60 C521.08,188.03 525.38,188.47 530.00,188.70 C534.62,188.93 538.92,188.90 544.80,189.00 C550.68,189.10 561.88,189.25 565.30,189.30" fill="none" stroke="#e96a74" stroke-width="1.25"/>
<path d="M314.00,189.30 C316.00,189.23 322.27,189.17 326.00,188.90 C329.73,188.63 332.67,188.08 336.40,187.70 C340.13,187.32 344.47,187.12 348.40,186.60 C352.33,186.08 357.15,185.28 360.00,184.60 C362.85,183.92 363.65,183.53 365.50,182.50 C367.35,181.47 369.13,180.23 371.10,178.40 C373.07,176.57 375.47,174.03 377.30,171.50 C379.13,168.97 380.72,165.73 382.10,163.20 C383.48,160.67 384.33,159.53 385.60,156.30 C386.87,153.07 388.55,148.18 389.70,143.80 C390.85,139.42 391.88,133.13 392.50,130.00 C393.12,126.87 392.68,128.57 393.40,125.00 C394.12,121.43 395.75,114.53 396.80,108.60 C397.85,102.67 398.75,95.78 399.70,89.40 C400.65,83.02 401.78,75.53 402.50,70.30 C403.22,65.07 403.57,61.77 404.00,58.00 C404.43,54.23 404.58,51.18 405.10,47.70 C405.62,44.22 406.45,40.38 407.10,37.10 C407.75,33.82 408.35,30.83 409.00,28.00 C409.65,25.17 410.33,22.40 411.00,20.10 C411.67,17.80 412.37,15.85 413.00,14.20 C413.63,12.55 414.15,11.30 414.80,10.20 C415.45,9.10 416.25,7.60 416.90,7.60 C417.55,7.60 418.10,8.78 418.70,10.20 C419.30,11.62 420.07,13.58 420.50,16.10 C420.93,18.62 421.02,22.67 421.30,25.30 C421.58,27.93 421.83,29.93 422.20,31.90 C422.57,33.87 423.07,35.13 423.50,37.10 C423.93,39.07 424.37,41.28 424.80,43.70 C425.23,46.12 425.73,49.22 426.10,51.60 C426.47,53.98 426.62,54.88 427.00,58.00 C427.38,61.12 427.53,65.07 428.40,70.30 C429.27,75.53 430.93,83.02 432.20,89.40 C433.47,95.78 434.90,102.67 436.00,108.60 C437.10,114.53 438.13,121.48 438.80,125.00 C439.47,128.52 439.40,126.50 440.00,129.70 C440.60,132.90 441.47,139.63 442.40,144.20 C443.33,148.77 444.38,153.07 445.60,157.10 C446.82,161.13 448.22,165.32 449.70,168.40 C451.18,171.48 452.62,173.58 454.50,175.60 C456.38,177.62 458.58,179.15 461.00,180.50 C463.42,181.85 465.78,182.77 469.00,183.70 C472.22,184.63 476.53,185.45 480.30,186.10 C484.07,186.75 485.77,187.12 491.60,187.60 C497.43,188.08 508.28,188.72 515.30,189.00 C522.32,189.28 525.37,189.22 533.70,189.30 C542.03,189.38 560.03,189.47 565.30,189.50" fill="none" stroke="#12bac1" stroke-width="1.25"/>
<path d="M314.00,189.30 C316.00,189.23 322.27,189.17 326.00,188.90 C329.73,188.63 332.67,188.08 336.40,187.70 C340.13,187.32 344.47,187.12 348.40,186.60 C352.33,186.08 357.15,185.28 360.00,184.60 C362.85,183.92 363.65,183.53 365.50,182.50 C367.35,181.47 369.13,180.23 371.10,178.40 C373.07,176.57 375.47,174.03 377.30,171.50 C379.13,168.97 380.72,165.73 382.10,163.20 C383.48,160.67 384.33,159.53 385.60,156.30 C386.87,153.07 388.55,148.18 389.70,143.80 C390.85,139.42 391.88,133.13 392.50,130.00 C393.12,126.87 392.68,128.57 393.40,125.00 C394.12,121.43 395.75,114.53 396.80,108.60 C397.85,102.67 398.75,95.78 399.70,89.40 C400.65,83.02 401.78,75.53 402.50,70.30 C403.22,65.07 403.57,61.77 404.00,58.00 C404.43,54.23 404.58,51.18 405.10,47.70 C405.62,44.22 406.45,40.38 407.10,37.10 C407.75,33.82 408.35,30.83 409.00,28.00 C409.65,25.17 410.33,22.40 411.00,20.10 C411.67,17.80 412.37,15.85 413.00,14.20 C413.63,12.55 414.15,11.30 414.80,10.20 C415.45,9.10 416.25,7.60 416.90,7.60 C417.55,7.60 418.10,8.78 418.70,10.20 C419.30,11.62 420.07,13.58 420.50,16.10 C420.93,18.62 421.02,22.67 421.30,25.30 C421.58,27.93 421.83,29.93 422.20,31.90 C422.57,33.87 423.07,35.13 423.50,37.10 C423.93,39.07 424.37,41.28 424.80,43.70 C425.23,46.12 425.73,49.22 426.10,51.60 C426.47,53.98 426.62,54.88 427.00,58.00 C427.38,61.12 427.53,65.07 428.40,70.30 C429.27,75.53 430.93,83.02 432.20,89.40 C433.47,95.78 434.90,102.67 436.00,108.60 C437.10,114.53 438.13,121.48 438.80,125.00 C439.47,128.52 439.40,126.50 440.00,129.70 C440.60,132.90 441.47,139.63 442.40,144.20 C443.33,148.77 444.38,153.07 445.60,157.10 C446.82,161.13 448.22,165.32 449.70,168.40 C451.18,171.48 452.62,173.58 454.50,175.60 C456.38,177.62 458.58,179.15 461.00,180.50 C463.42,181.85 465.78,182.77 469.00,183.70 C472.22,184.63 476.53,185.45 480.30,186.10 C484.07,186.75 485.77,187.12 491.60,187.60 C497.43,188.08 508.28,188.72 515.30,189.00 C522.32,189.28 525.37,189.22 533.70,189.30 C542.03,189.38 560.03,189.47 565.30,189.50" fill="none" stroke="#58a2a8" stroke-width="1.05" clip-path="url(#clipb)"/>
<path d="M335.00,189.60 C338.98,189.57 352.43,189.52 358.90,189.40 C365.37,189.28 369.32,189.18 373.80,188.90 C378.28,188.62 382.80,188.18 385.80,187.70 C388.80,187.22 389.88,186.87 391.80,186.00 C393.72,185.13 395.57,184.23 397.30,182.50 C399.03,180.77 400.82,178.35 402.20,175.60 C403.58,172.85 404.57,169.45 405.60,166.00 C406.63,162.55 407.47,158.60 408.40,154.90 C409.33,151.20 410.40,147.95 411.20,143.80 C412.00,139.65 412.67,133.63 413.20,130.00 C413.73,126.37 413.83,125.57 414.40,122.00 C414.97,118.43 415.87,114.03 416.60,108.60 C417.33,103.17 417.95,95.78 418.80,89.40 C419.65,83.02 420.92,75.20 421.70,70.30 C422.48,65.40 422.92,63.57 423.50,60.00 C424.08,56.43 424.65,52.05 425.20,48.90 C425.75,45.75 426.27,43.50 426.80,41.10 C427.33,38.70 427.85,36.68 428.40,34.50 C428.95,32.32 429.60,29.97 430.10,28.00 C430.60,26.03 430.93,23.95 431.40,22.70 C431.87,21.45 432.40,20.50 432.90,20.50 C433.40,20.50 433.88,21.23 434.40,22.70 C434.92,24.17 435.48,27.12 436.00,29.30 C436.52,31.48 437.02,34.17 437.50,35.80 C437.98,37.43 438.38,38.48 438.90,39.10 C439.42,39.72 440.03,39.17 440.60,39.50 C441.17,39.83 441.80,39.97 442.30,41.10 C442.80,42.23 443.12,44.33 443.60,46.30 C444.08,48.27 444.72,50.62 445.20,52.90 C445.68,55.18 446.12,58.05 446.50,60.00 C446.88,61.95 446.85,62.25 447.50,64.60 C448.15,66.95 449.28,69.97 450.40,74.10 C451.52,78.23 452.93,83.97 454.20,89.40 C455.47,94.83 456.80,102.77 458.00,106.70 C459.20,110.63 460.50,110.78 461.40,113.00 C462.30,115.22 462.77,117.67 463.40,120.00 C464.03,122.33 464.67,124.85 465.20,127.00 C465.73,129.15 466.10,130.98 466.60,132.90 C467.10,134.82 467.67,136.62 468.20,138.50 C468.73,140.38 468.85,141.37 469.80,144.20 C470.75,147.03 472.78,152.28 473.90,155.50 C475.02,158.72 475.70,161.08 476.50,163.50 C477.30,165.92 477.53,167.83 478.70,170.00 C479.87,172.17 481.88,174.62 483.50,176.50 C485.12,178.38 486.52,179.97 488.40,181.30 C490.28,182.63 491.85,183.70 494.80,184.50 C497.75,185.30 502.38,185.58 506.10,186.10 C509.82,186.62 513.12,187.17 517.10,187.60 C521.08,188.03 525.38,188.47 530.00,188.70 C534.62,188.93 538.92,188.90 544.80,189.00 C550.68,189.10 561.88,189.25 565.30,189.30" fill="none" stroke="#e26a74" stroke-width="1.05" clip-path="url(#clipcb)"/>
<clipPath id="clipc"><path d="M38.50,397.50 C45.48,397.47 72.12,397.38 80.40,397.30 C88.68,397.22 85.08,397.25 88.20,397.00 C91.32,396.75 95.97,396.32 99.10,395.80 C102.23,395.28 104.38,394.82 107.00,393.90 C109.62,392.98 112.45,392.08 114.80,390.30 C117.15,388.52 119.27,385.95 121.10,383.20 C122.93,380.45 124.37,377.18 125.80,373.80 C127.23,370.42 128.07,367.72 129.70,362.90 C131.33,358.08 134.12,350.58 135.60,344.90 C137.08,339.22 137.53,334.12 138.60,328.80 C139.67,323.48 140.87,318.28 142.00,313.00 C143.13,307.72 144.35,302.00 145.40,297.10 C146.45,292.20 147.32,287.87 148.30,283.60 C149.28,279.33 150.40,275.08 151.30,271.50 C152.20,267.92 152.92,265.50 153.70,262.10 C154.48,258.70 155.22,254.37 156.00,251.10 C156.78,247.83 157.62,245.10 158.40,242.50 C159.18,239.90 160.00,237.35 160.70,235.50 C161.40,233.65 161.85,232.38 162.60,231.40 C163.35,230.42 164.25,229.90 165.20,229.60 C166.15,229.30 167.35,229.38 168.30,229.60 C169.25,229.82 170.17,230.28 170.90,230.90 C171.63,231.52 172.17,232.20 172.70,233.30 C173.23,234.40 173.57,235.57 174.10,237.50 C174.63,239.43 175.25,242.05 175.90,244.90 C176.55,247.75 177.30,251.37 178.00,254.60 C178.70,257.83 179.42,260.85 180.10,264.30 C180.78,267.75 181.53,272.08 182.10,275.30 C182.67,278.52 182.72,279.58 183.50,283.60 C184.28,287.62 185.80,294.50 186.80,299.40 C187.80,304.30 188.48,308.48 189.50,313.00 C190.52,317.52 191.68,321.78 192.90,326.50 C194.12,331.22 195.73,337.38 196.80,341.30 C197.87,345.22 198.23,346.95 199.30,350.00 C200.37,353.05 201.65,356.20 203.20,359.60 C204.75,363.00 206.80,367.10 208.60,370.40 C210.40,373.70 211.90,376.70 214.00,379.40 C216.10,382.10 218.53,384.73 221.20,386.60 C223.87,388.47 226.63,389.33 230.00,390.60 C233.37,391.87 237.23,393.27 241.40,394.20 C245.57,395.13 249.73,395.72 255.00,396.20 C260.27,396.68 267.25,396.90 273.00,397.10 C278.75,397.30 286.75,397.35 289.50,397.40 L289.50,398.00 L38.50,398.00 Z"/></clipPath>
<clipPath id="clipcc"><path d="M38.50,397.50 C40.53,397.28 47.12,396.48 50.70,396.20 C54.28,395.92 57.40,396.00 60.00,395.80 C62.60,395.60 64.08,395.40 66.30,395.00 C68.52,394.60 70.95,394.32 73.30,393.40 C75.65,392.48 78.05,391.07 80.40,389.50 C82.75,387.93 85.18,386.08 87.40,384.00 C89.62,381.92 91.87,380.00 93.70,377.00 C95.53,374.00 96.97,369.40 98.40,366.00 C99.83,362.60 101.00,359.73 102.30,356.60 C103.60,353.47 104.90,350.07 106.20,347.20 C107.50,344.33 108.83,342.18 110.10,339.40 C111.37,336.62 112.97,332.65 113.80,330.50 C114.63,328.35 114.63,327.83 115.10,326.50 C115.57,325.17 115.98,323.70 116.60,322.50 C117.22,321.30 117.90,320.35 118.80,319.30 C119.70,318.25 121.07,317.63 122.00,316.20 C122.93,314.77 123.70,313.00 124.40,310.70 C125.10,308.40 125.65,305.02 126.20,302.40 C126.75,299.78 126.92,298.57 127.70,295.00 C128.48,291.43 129.83,285.70 130.90,281.00 C131.97,276.30 133.18,271.00 134.10,266.80 C135.02,262.60 135.62,259.45 136.40,255.80 C137.18,252.15 138.02,248.28 138.80,244.90 C139.58,241.52 140.32,238.37 141.10,235.50 C141.88,232.63 142.72,229.78 143.50,227.70 C144.28,225.62 145.02,223.27 145.80,223.00 C146.58,222.73 147.42,224.53 148.20,226.10 C148.98,227.67 149.72,229.80 150.50,232.40 C151.28,235.00 152.12,238.58 152.90,241.70 C153.68,244.82 154.42,247.70 155.20,251.10 C155.98,254.50 156.82,258.18 157.60,262.10 C158.38,266.02 159.37,271.02 159.90,274.60 C160.43,278.18 160.20,279.47 160.80,283.60 C161.40,287.73 162.48,294.13 163.50,299.40 C164.52,304.67 165.88,310.30 166.90,315.20 C167.92,320.10 168.80,325.00 169.60,328.80 C170.40,332.60 170.60,334.07 171.70,338.00 C172.80,341.93 174.55,347.30 176.20,352.40 C177.85,357.50 179.80,364.10 181.60,368.60 C183.40,373.10 184.90,376.25 187.00,379.40 C189.10,382.55 191.50,385.25 194.20,387.50 C196.90,389.75 199.90,391.55 203.20,392.90 C206.50,394.25 209.53,394.92 214.00,395.60 C218.47,396.28 225.82,396.75 230.00,397.00 C234.18,397.25 229.18,397.02 239.10,397.10 C249.02,397.18 281.10,397.43 289.50,397.50 L289.50,398.00 L38.50,398.00 Z"/></clipPath>
<path d="M38.50,397.50 C45.48,397.47 72.12,397.38 80.40,397.30 C88.68,397.22 85.08,397.25 88.20,397.00 C91.32,396.75 95.97,396.32 99.10,395.80 C102.23,395.28 104.38,394.82 107.00,393.90 C109.62,392.98 112.45,392.08 114.80,390.30 C117.15,388.52 119.27,385.95 121.10,383.20 C122.93,380.45 124.37,377.18 125.80,373.80 C127.23,370.42 128.07,367.72 129.70,362.90 C131.33,358.08 134.12,350.58 135.60,344.90 C137.08,339.22 137.53,334.12 138.60,328.80 C139.67,323.48 140.87,318.28 142.00,313.00 C143.13,307.72 144.35,302.00 145.40,297.10 C146.45,292.20 147.32,287.87 148.30,283.60 C149.28,279.33 150.40,275.08 151.30,271.50 C152.20,267.92 152.92,265.50 153.70,262.10 C154.48,258.70 155.22,254.37 156.00,251.10 C156.78,247.83 157.62,245.10 158.40,242.50 C159.18,239.90 160.00,237.35 160.70,235.50 C161.40,233.65 161.85,232.38 162.60,231.40 C163.35,230.42 164.25,229.90 165.20,229.60 C166.15,229.30 167.35,229.38 168.30,229.60 C169.25,229.82 170.17,230.28 170.90,230.90 C171.63,231.52 172.17,232.20 172.70,233.30 C173.23,234.40 173.57,235.57 174.10,237.50 C174.63,239.43 175.25,242.05 175.90,244.90 C176.55,247.75 177.30,251.37 178.00,254.60 C178.70,257.83 179.42,260.85 180.10,264.30 C180.78,267.75 181.53,272.08 182.10,275.30 C182.67,278.52 182.72,279.58 183.50,283.60 C184.28,287.62 185.80,294.50 186.80,299.40 C187.80,304.30 188.48,308.48 189.50,313.00 C190.52,317.52 191.68,321.78 192.90,326.50 C194.12,331.22 195.73,337.38 196.80,341.30 C197.87,345.22 198.23,346.95 199.30,350.00 C200.37,353.05 201.65,356.20 203.20,359.60 C204.75,363.00 206.80,367.10 208.60,370.40 C210.40,373.70 211.90,376.70 214.00,379.40 C216.10,382.10 218.53,384.73 221.20,386.60 C223.87,388.47 226.63,389.33 230.00,390.60 C233.37,391.87 237.23,393.27 241.40,394.20 C245.57,395.13 249.73,395.72 255.00,396.20 C260.27,396.68 267.25,396.90 273.00,397.10 C278.75,397.30 286.75,397.35 289.50,397.40 L289.50,398.00 L38.50,398.00 Z" fill="#fcc1c4"/>
<path d="M38.50,397.50 C40.53,397.28 47.12,396.48 50.70,396.20 C54.28,395.92 57.40,396.00 60.00,395.80 C62.60,395.60 64.08,395.40 66.30,395.00 C68.52,394.60 70.95,394.32 73.30,393.40 C75.65,392.48 78.05,391.07 80.40,389.50 C82.75,387.93 85.18,386.08 87.40,384.00 C89.62,381.92 91.87,380.00 93.70,377.00 C95.53,374.00 96.97,369.40 98.40,366.00 C99.83,362.60 101.00,359.73 102.30,356.60 C103.60,353.47 104.90,350.07 106.20,347.20 C107.50,344.33 108.83,342.18 110.10,339.40 C111.37,336.62 112.97,332.65 113.80,330.50 C114.63,328.35 114.63,327.83 115.10,326.50 C115.57,325.17 115.98,323.70 116.60,322.50 C117.22,321.30 117.90,320.35 118.80,319.30 C119.70,318.25 121.07,317.63 122.00,316.20 C122.93,314.77 123.70,313.00 124.40,310.70 C125.10,308.40 125.65,305.02 126.20,302.40 C126.75,299.78 126.92,298.57 127.70,295.00 C128.48,291.43 129.83,285.70 130.90,281.00 C131.97,276.30 133.18,271.00 134.10,266.80 C135.02,262.60 135.62,259.45 136.40,255.80 C137.18,252.15 138.02,248.28 138.80,244.90 C139.58,241.52 140.32,238.37 141.10,235.50 C141.88,232.63 142.72,229.78 143.50,227.70 C144.28,225.62 145.02,223.27 145.80,223.00 C146.58,222.73 147.42,224.53 148.20,226.10 C148.98,227.67 149.72,229.80 150.50,232.40 C151.28,235.00 152.12,238.58 152.90,241.70 C153.68,244.82 154.42,247.70 155.20,251.10 C155.98,254.50 156.82,258.18 157.60,262.10 C158.38,266.02 159.37,271.02 159.90,274.60 C160.43,278.18 160.20,279.47 160.80,283.60 C161.40,287.73 162.48,294.13 163.50,299.40 C164.52,304.67 165.88,310.30 166.90,315.20 C167.92,320.10 168.80,325.00 169.60,328.80 C170.40,332.60 170.60,334.07 171.70,338.00 C172.80,341.93 174.55,347.30 176.20,352.40 C177.85,357.50 179.80,364.10 181.60,368.60 C183.40,373.10 184.90,376.25 187.00,379.40 C189.10,382.55 191.50,385.25 194.20,387.50 C196.90,389.75 199.90,391.55 203.20,392.90 C206.50,394.25 209.53,394.92 214.00,395.60 C218.47,396.28 225.82,396.75 230.00,397.00 C234.18,397.25 229.18,397.02 239.10,397.10 C249.02,397.18 281.10,397.43 289.50,397.50 L289.50,398.00 L38.50,398.00 Z" fill="#96e6e8"/>
<path d="M38.50,397.50 C40.53,397.28 47.12,396.48 50.70,396.20 C54.28,395.92 57.40,396.00 60.00,395.80 C62.60,395.60 64.08,395.40 66.30,395.00 C68.52,394.60 70.95,394.32 73.30,393.40 C75.65,392.48 78.05,391.07 80.40,389.50 C82.75,387.93 85.18,386.08 87.40,384.00 C89.62,381.92 91.87,380.00 93.70,377.00 C95.53,374.00 96.97,369.40 98.40,366.00 C99.83,362.60 101.00,359.73 102.30,356.60 C103.60,353.47 104.90,350.07 106.20,347.20 C107.50,344.33 108.83,342.18 110.10,339.40 C111.37,336.62 112.97,332.65 113.80,330.50 C114.63,328.35 114.63,327.83 115.10,326.50 C115.57,325.17 115.98,323.70 116.60,322.50 C117.22,321.30 117.90,320.35 118.80,319.30 C119.70,318.25 121.07,317.63 122.00,316.20 C122.93,314.77 123.70,313.00 124.40,310.70 C125.10,308.40 125.65,305.02 126.20,302.40 C126.75,299.78 126.92,298.57 127.70,295.00 C128.48,291.43 129.83,285.70 130.90,281.00 C131.97,276.30 133.18,271.00 134.10,266.80 C135.02,262.60 135.62,259.45 136.40,255.80 C137.18,252.15 138.02,248.28 138.80,244.90 C139.58,241.52 140.32,238.37 141.10,235.50 C141.88,232.63 142.72,229.78 143.50,227.70 C144.28,225.62 145.02,223.27 145.80,223.00 C146.58,222.73 147.42,224.53 148.20,226.10 C148.98,227.67 149.72,229.80 150.50,232.40 C151.28,235.00 152.12,238.58 152.90,241.70 C153.68,244.82 154.42,247.70 155.20,251.10 C155.98,254.50 156.82,258.18 157.60,262.10 C158.38,266.02 159.37,271.02 159.90,274.60 C160.43,278.18 160.20,279.47 160.80,283.60 C161.40,287.73 162.48,294.13 163.50,299.40 C164.52,304.67 165.88,310.30 166.90,315.20 C167.92,320.10 168.80,325.00 169.60,328.80 C170.40,332.60 170.60,334.07 171.70,338.00 C172.80,341.93 174.55,347.30 176.20,352.40 C177.85,357.50 179.80,364.10 181.60,368.60 C183.40,373.10 184.90,376.25 187.00,379.40 C189.10,382.55 191.50,385.25 194.20,387.50 C196.90,389.75 199.90,391.55 203.20,392.90 C206.50,394.25 209.53,394.92 214.00,395.60 C218.47,396.28 225.82,396.75 230.00,397.00 C234.18,397.25 229.18,397.02 239.10,397.10 C249.02,397.18 281.10,397.43 289.50,397.50 L289.50,398.00 L38.50,398.00 Z" fill="#c0b5ba" clip-path="url(#clipc)"/>
<path d="M38.50,397.50 C45.48,397.47 72.12,397.38 80.40,397.30 C88.68,397.22 85.08,397.25 88.20,397.00 C91.32,396.75 95.97,396.32 99.10,395.80 C102.23,395.28 104.38,394.82 107.00,393.90 C109.62,392.98 112.45,392.08 114.80,390.30 C117.15,388.52 119.27,385.95 121.10,383.20 C122.93,380.45 124.37,377.18 125.80,373.80 C127.23,370.42 128.07,367.72 129.70,362.90 C131.33,358.08 134.12,350.58 135.60,344.90 C137.08,339.22 137.53,334.12 138.60,328.80 C139.67,323.48 140.87,318.28 142.00,313.00 C143.13,307.72 144.35,302.00 145.40,297.10 C146.45,292.20 147.32,287.87 148.30,283.60 C149.28,279.33 150.40,275.08 151.30,271.50 C152.20,267.92 152.92,265.50 153.70,262.10 C154.48,258.70 155.22,254.37 156.00,251.10 C156.78,247.83 157.62,245.10 158.40,242.50 C159.18,239.90 160.00,237.35 160.70,235.50 C161.40,233.65 161.85,232.38 162.60,231.40 C163.35,230.42 164.25,229.90 165.20,229.60 C166.15,229.30 167.35,229.38 168.30,229.60 C169.25,229.82 170.17,230.28 170.90,230.90 C171.63,231.52 172.17,232.20 172.70,233.30 C173.23,234.40 173.57,235.57 174.10,237.50 C174.63,239.43 175.25,242.05 175.90,244.90 C176.55,247.75 177.30,251.37 178.00,254.60 C178.70,257.83 179.42,260.85 180.10,264.30 C180.78,267.75 181.53,272.08 182.10,275.30 C182.67,278.52 182.72,279.58 183.50,283.60 C184.28,287.62 185.80,294.50 186.80,299.40 C187.80,304.30 188.48,308.48 189.50,313.00 C190.52,317.52 191.68,321.78 192.90,326.50 C194.12,331.22 195.73,337.38 196.80,341.30 C197.87,345.22 198.23,346.95 199.30,350.00 C200.37,353.05 201.65,356.20 203.20,359.60 C204.75,363.00 206.80,367.10 208.60,370.40 C210.40,373.70 211.90,376.70 214.00,379.40 C216.10,382.10 218.53,384.73 221.20,386.60 C223.87,388.47 226.63,389.33 230.00,390.60 C233.37,391.87 237.23,393.27 241.40,394.20 C245.57,395.13 249.73,395.72 255.00,396.20 C260.27,396.68 267.25,396.90 273.00,397.10 C278.75,397.30 286.75,397.35 289.50,397.40" fill="none" stroke="#e96a74" stroke-width="1.25"/>
<path d="M38.50,397.50 C40.53,397.28 47.12,396.48 50.70,396.20 C54.28,395.92 57.40,396.00 60.00,395.80 C62.60,395.60 64.08,395.40 66.30,395.00 C68.52,394.60 70.95,394.32 73.30,393.40 C75.65,392.48 78.05,391.07 80.40,389.50 C82.75,387.93 85.18,386.08 87.40,384.00 C89.62,381.92 91.87,380.00 93.70,377.00 C95.53,374.00 96.97,369.40 98.40,366.00 C99.83,362.60 101.00,359.73 102.30,356.60 C103.60,353.47 104.90,350.07 106.20,347.20 C107.50,344.33 108.83,342.18 110.10,339.40 C111.37,336.62 112.97,332.65 113.80,330.50 C114.63,328.35 114.63,327.83 115.10,326.50 C115.57,325.17 115.98,323.70 116.60,322.50 C117.22,321.30 117.90,320.35 118.80,319.30 C119.70,318.25 121.07,317.63 122.00,316.20 C122.93,314.77 123.70,313.00 124.40,310.70 C125.10,308.40 125.65,305.02 126.20,302.40 C126.75,299.78 126.92,298.57 127.70,295.00 C128.48,291.43 129.83,285.70 130.90,281.00 C131.97,276.30 133.18,271.00 134.10,266.80 C135.02,262.60 135.62,259.45 136.40,255.80 C137.18,252.15 138.02,248.28 138.80,244.90 C139.58,241.52 140.32,238.37 141.10,235.50 C141.88,232.63 142.72,229.78 143.50,227.70 C144.28,225.62 145.02,223.27 145.80,223.00 C146.58,222.73 147.42,224.53 148.20,226.10 C148.98,227.67 149.72,229.80 150.50,232.40 C151.28,235.00 152.12,238.58 152.90,241.70 C153.68,244.82 154.42,247.70 155.20,251.10 C155.98,254.50 156.82,258.18 157.60,262.10 C158.38,266.02 159.37,271.02 159.90,274.60 C160.43,278.18 160.20,279.47 160.80,283.60 C161.40,287.73 162.48,294.13 163.50,299.40 C164.52,304.67 165.88,310.30 166.90,315.20 C167.92,320.10 168.80,325.00 169.60,328.80 C170.40,332.60 170.60,334.07 171.70,338.00 C172.80,341.93 174.55,347.30 176.20,352.40 C177.85,357.50 179.80,364.10 181.60,368.60 C183.40,373.10 184.90,376.25 187.00,379.40 C189.10,382.55 191.50,385.25 194.20,387.50 C196.90,389.75 199.90,391.55 203.20,392.90 C206.50,394.25 209.53,394.92 214.00,395.60 C218.47,396.28 225.82,396.75 230.00,397.00 C234.18,397.25 229.18,397.02 239.10,397.10 C249.02,397.18 281.10,397.43 289.50,397.50" fill="none" stroke="#12bac1" stroke-width="1.25"/>
<path d="M38.50,397.50 C40.53,397.28 47.12,396.48 50.70,396.20 C54.28,395.92 57.40,396.00 60.00,395.80 C62.60,395.60 64.08,395.40 66.30,395.00 C68.52,394.60 70.95,394.32 73.30,393.40 C75.65,392.48 78.05,391.07 80.40,389.50 C82.75,387.93 85.18,386.08 87.40,384.00 C89.62,381.92 91.87,380.00 93.70,377.00 C95.53,374.00 96.97,369.40 98.40,366.00 C99.83,362.60 101.00,359.73 102.30,356.60 C103.60,353.47 104.90,350.07 106.20,347.20 C107.50,344.33 108.83,342.18 110.10,339.40 C111.37,336.62 112.97,332.65 113.80,330.50 C114.63,328.35 114.63,327.83 115.10,326.50 C115.57,325.17 115.98,323.70 116.60,322.50 C117.22,321.30 117.90,320.35 118.80,319.30 C119.70,318.25 121.07,317.63 122.00,316.20 C122.93,314.77 123.70,313.00 124.40,310.70 C125.10,308.40 125.65,305.02 126.20,302.40 C126.75,299.78 126.92,298.57 127.70,295.00 C128.48,291.43 129.83,285.70 130.90,281.00 C131.97,276.30 133.18,271.00 134.10,266.80 C135.02,262.60 135.62,259.45 136.40,255.80 C137.18,252.15 138.02,248.28 138.80,244.90 C139.58,241.52 140.32,238.37 141.10,235.50 C141.88,232.63 142.72,229.78 143.50,227.70 C144.28,225.62 145.02,223.27 145.80,223.00 C146.58,222.73 147.42,224.53 148.20,226.10 C148.98,227.67 149.72,229.80 150.50,232.40 C151.28,235.00 152.12,238.58 152.90,241.70 C153.68,244.82 154.42,247.70 155.20,251.10 C155.98,254.50 156.82,258.18 157.60,262.10 C158.38,266.02 159.37,271.02 159.90,274.60 C160.43,278.18 160.20,279.47 160.80,283.60 C161.40,287.73 162.48,294.13 163.50,299.40 C164.52,304.67 165.88,310.30 166.90,315.20 C167.92,320.10 168.80,325.00 169.60,328.80 C170.40,332.60 170.60,334.07 171.70,338.00 C172.80,341.93 174.55,347.30 176.20,352.40 C177.85,357.50 179.80,364.10 181.60,368.60 C183.40,373.10 184.90,376.25 187.00,379.40 C189.10,382.55 191.50,385.25 194.20,387.50 C196.90,389.75 199.90,391.55 203.20,392.90 C206.50,394.25 209.53,394.92 214.00,395.60 C218.47,396.28 225.82,396.75 230.00,397.00 C234.18,397.25 229.18,397.02 239.10,397.10 C249.02,397.18 281.10,397.43 289.50,397.50" fill="none" stroke="#58a2a8" stroke-width="1.05" clip-path="url(#clipc)"/>
<path d="M38.50,397.50 C45.48,397.47 72.12,397.38 80.40,397.30 C88.68,397.22 85.08,397.25 88.20,397.00 C91.32,396.75 95.97,396.32 99.10,395.80 C102.23,395.28 104.38,394.82 107.00,393.90 C109.62,392.98 112.45,392.08 114.80,390.30 C117.15,388.52 119.27,385.95 121.10,383.20 C122.93,380.45 124.37,377.18 125.80,373.80 C127.23,370.42 128.07,367.72 129.70,362.90 C131.33,358.08 134.12,350.58 135.60,344.90 C137.08,339.22 137.53,334.12 138.60,328.80 C139.67,323.48 140.87,318.28 142.00,313.00 C143.13,307.72 144.35,302.00 145.40,297.10 C146.45,292.20 147.32,287.87 148.30,283.60 C149.28,279.33 150.40,275.08 151.30,271.50 C152.20,267.92 152.92,265.50 153.70,262.10 C154.48,258.70 155.22,254.37 156.00,251.10 C156.78,247.83 157.62,245.10 158.40,242.50 C159.18,239.90 160.00,237.35 160.70,235.50 C161.40,233.65 161.85,232.38 162.60,231.40 C163.35,230.42 164.25,229.90 165.20,229.60 C166.15,229.30 167.35,229.38 168.30,229.60 C169.25,229.82 170.17,230.28 170.90,230.90 C171.63,231.52 172.17,232.20 172.70,233.30 C173.23,234.40 173.57,235.57 174.10,237.50 C174.63,239.43 175.25,242.05 175.90,244.90 C176.55,247.75 177.30,251.37 178.00,254.60 C178.70,257.83 179.42,260.85 180.10,264.30 C180.78,267.75 181.53,272.08 182.10,275.30 C182.67,278.52 182.72,279.58 183.50,283.60 C184.28,287.62 185.80,294.50 186.80,299.40 C187.80,304.30 188.48,308.48 189.50,313.00 C190.52,317.52 191.68,321.78 192.90,326.50 C194.12,331.22 195.73,337.38 196.80,341.30 C197.87,345.22 198.23,346.95 199.30,350.00 C200.37,353.05 201.65,356.20 203.20,359.60 C204.75,363.00 206.80,367.10 208.60,370.40 C210.40,373.70 211.90,376.70 214.00,379.40 C216.10,382.10 218.53,384.73 221.20,386.60 C223.87,388.47 226.63,389.33 230.00,390.60 C233.37,391.87 237.23,393.27 241.40,394.20 C245.57,395.13 249.73,395.72 255.00,396.20 C260.27,396.68 267.25,396.90 273.00,397.10 C278.75,397.30 286.75,397.35 289.50,397.40" fill="none" stroke="#e26a74" stroke-width="1.05" clip-path="url(#clipcc)"/>
<line x1="175.4" y1="2.7" x2="175.4" y2="189.5" stroke="#111" stroke-width="1.3" stroke-dasharray="1.4,2.64"/>
<line x1="421.4" y1="2.7" x2="421.4" y2="189.5" stroke="#111" stroke-width="1.3" stroke-dasharray="1.4,2.64"/>
<line x1="146.0" y1="210.9" x2="146.0" y2="397.5" stroke="#111" stroke-width="1.3" stroke-dasharray="1.4,2.64"/>
<path d="M38.5,189.5 L38.5,3.5 L289.5,3.5 L289.5,189.5" fill="none" stroke="#858585" stroke-width="1"/><line x1="38.0" y1="189.5" x2="290.0" y2="189.5" stroke="#000" stroke-opacity="0.45" stroke-width="1"/>
<path d="M314.0,189.5 L314.0,3.5 L565.3,3.5 L565.3,189.5" fill="none" stroke="#858585" stroke-width="1"/><line x1="313.5" y1="189.5" x2="565.8" y2="189.5" stroke="#000" stroke-opacity="0.45" stroke-width="1"/>
<path d="M38.5,397.5 L38.5,212.5 L289.5,212.5 L289.5,397.5" fill="none" stroke="#858585" stroke-width="1"/><line x1="38.0" y1="397.5" x2="290.0" y2="397.5" stroke="#000" stroke-opacity="0.45" stroke-width="1"/>
<line x1="38.5" y1="189.5" x2="38.5" y2="192.5" stroke="#333" stroke-width="1"/>
<text x="38.50" y="203.80" text-anchor="middle" font-size="10.60" style="fill:#1a1a1a;stroke:#1a1a1a;stroke-width:0.25px">-12</text>
<line x1="61.3" y1="189.5" x2="61.3" y2="192.5" stroke="#333" stroke-width="1"/>
<text x="61.32" y="203.80" text-anchor="middle" font-size="10.60" style="fill:#1a1a1a;stroke:#1a1a1a;stroke-width:0.25px">-10</text>
<line x1="84.1" y1="189.5" x2="84.1" y2="192.5" stroke="#333" stroke-width="1"/>
<text x="84.14" y="203.80" text-anchor="middle" font-size="10.60" style="fill:#1a1a1a;stroke:#1a1a1a;stroke-width:0.25px">-8</text>
<line x1="107.0" y1="189.5" x2="107.0" y2="192.5" stroke="#333" stroke-width="1"/>
<text x="106.95" y="203.80" text-anchor="middle" font-size="10.60" style="fill:#1a1a1a;stroke:#1a1a1a;stroke-width:0.25px">-6</text>
<line x1="129.8" y1="189.5" x2="129.8" y2="192.5" stroke="#333" stroke-width="1"/>
<text x="129.77" y="203.80" text-anchor="middle" font-size="10.60" style="fill:#1a1a1a;stroke:#1a1a1a;stroke-width:0.25px">-4</text>
<line x1="152.6" y1="189.5" x2="152.6" y2="192.5" stroke="#333" stroke-width="1"/>
<text x="152.59" y="203.80" text-anchor="middle" font-size="10.60" style="fill:#1a1a1a;stroke:#1a1a1a;stroke-width:0.25px">-2</text>
<line x1="175.4" y1="189.5" x2="175.4" y2="192.5" stroke="#333" stroke-width="1"/>
<text x="175.41" y="203.80" text-anchor="middle" font-size="10.60" style="fill:#1a1a1a;stroke:#1a1a1a;stroke-width:0.25px">0</text>
<line x1="198.2" y1="189.5" x2="198.2" y2="192.5" stroke="#333" stroke-width="1"/>
<text x="198.23" y="203.80" text-anchor="middle" font-size="10.60" style="fill:#1a1a1a;stroke:#1a1a1a;stroke-width:0.25px">2</text>
<line x1="221.0" y1="189.5" x2="221.0" y2="192.5" stroke="#333" stroke-width="1"/>
<text x="221.05" y="203.80" text-anchor="middle" font-size="10.60" style="fill:#1a1a1a;stroke:#1a1a1a;stroke-width:0.25px">4</text>
<line x1="243.9" y1="189.5" x2="243.9" y2="192.5" stroke="#333" stroke-width="1"/>
<text x="243.86" y="203.80" text-anchor="middle" font-size="10.60" style="fill:#1a1a1a;stroke:#1a1a1a;stroke-width:0.25px">6</text>
<line x1="266.7" y1="189.5" x2="266.7" y2="192.5" stroke="#333" stroke-width="1"/>
<text x="266.68" y="203.80" text-anchor="middle" font-size="10.60" style="fill:#1a1a1a;stroke:#1a1a1a;stroke-width:0.25px">8</text>
<line x1="289.5" y1="189.5" x2="289.5" y2="192.5" stroke="#333" stroke-width="1"/>
<text x="289.50" y="203.80" text-anchor="middle" font-size="10.60" style="fill:#1a1a1a;stroke:#1a1a1a;stroke-width:0.25px">10</text>
<line x1="314.0" y1="189.5" x2="314.0" y2="192.5" stroke="#333" stroke-width="1"/>
<text x="314.00" y="203.80" text-anchor="middle" font-size="10.60" style="fill:#1a1a1a;stroke:#1a1a1a;stroke-width:0.25px">-12</text>
<line x1="349.9" y1="189.5" x2="349.9" y2="192.5" stroke="#333" stroke-width="1"/>
<text x="349.90" y="203.80" text-anchor="middle" font-size="10.60" style="fill:#1a1a1a;stroke:#1a1a1a;stroke-width:0.25px">-8</text>
<line x1="385.8" y1="189.5" x2="385.8" y2="192.5" stroke="#333" stroke-width="1"/>
<text x="385.80" y="203.80" text-anchor="middle" font-size="10.60" style="fill:#1a1a1a;stroke:#1a1a1a;stroke-width:0.25px">-4</text>
<line x1="421.7" y1="189.5" x2="421.7" y2="192.5" stroke="#333" stroke-width="1"/>
<text x="421.70" y="203.80" text-anchor="middle" font-size="10.60" style="fill:#1a1a1a;stroke:#1a1a1a;stroke-width:0.25px">0</text>
<line x1="457.6" y1="189.5" x2="457.6" y2="192.5" stroke="#333" stroke-width="1"/>
<text x="457.60" y="203.80" text-anchor="middle" font-size="10.60" style="fill:#1a1a1a;stroke:#1a1a1a;stroke-width:0.25px">4</text>
<line x1="493.5" y1="189.5" x2="493.5" y2="192.5" stroke="#333" stroke-width="1"/>
<text x="493.50" y="203.80" text-anchor="middle" font-size="10.60" style="fill:#1a1a1a;stroke:#1a1a1a;stroke-width:0.25px">8</text>
<line x1="529.4" y1="189.5" x2="529.4" y2="192.5" stroke="#333" stroke-width="1"/>
<text x="529.40" y="203.80" text-anchor="middle" font-size="10.60" style="fill:#1a1a1a;stroke:#1a1a1a;stroke-width:0.25px">12</text>
<line x1="565.3" y1="189.5" x2="565.3" y2="192.5" stroke="#333" stroke-width="1"/>
<text x="565.30" y="203.80" text-anchor="middle" font-size="10.60" style="fill:#1a1a1a;stroke:#1a1a1a;stroke-width:0.25px">16</text>
<line x1="38.5" y1="397.5" x2="38.5" y2="400.5" stroke="#333" stroke-width="1"/>
<text x="38.50" y="412.00" text-anchor="middle" font-size="10.60" style="fill:#1a1a1a;stroke:#1a1a1a;stroke-width:0.25px">-15</text>
<line x1="74.4" y1="397.5" x2="74.4" y2="400.5" stroke="#333" stroke-width="1"/>
<text x="74.36" y="412.00" text-anchor="middle" font-size="10.60" style="fill:#1a1a1a;stroke:#1a1a1a;stroke-width:0.25px">-10</text>
<line x1="110.2" y1="397.5" x2="110.2" y2="400.5" stroke="#333" stroke-width="1"/>
<text x="110.21" y="412.00" text-anchor="middle" font-size="10.60" style="fill:#1a1a1a;stroke:#1a1a1a;stroke-width:0.25px">-5</text>
<line x1="146.1" y1="397.5" x2="146.1" y2="400.5" stroke="#333" stroke-width="1"/>
<text x="146.07" y="412.00" text-anchor="middle" font-size="10.60" style="fill:#1a1a1a;stroke:#1a1a1a;stroke-width:0.25px">0</text>
<line x1="181.9" y1="397.5" x2="181.9" y2="400.5" stroke="#333" stroke-width="1"/>
<text x="181.93" y="412.00" text-anchor="middle" font-size="10.60" style="fill:#1a1a1a;stroke:#1a1a1a;stroke-width:0.25px">5</text>
<line x1="217.8" y1="397.5" x2="217.8" y2="400.5" stroke="#333" stroke-width="1"/>
<text x="217.79" y="412.00" text-anchor="middle" font-size="10.60" style="fill:#1a1a1a;stroke:#1a1a1a;stroke-width:0.25px">10</text>
<line x1="253.6" y1="397.5" x2="253.6" y2="400.5" stroke="#333" stroke-width="1"/>
<text x="253.64" y="412.00" text-anchor="middle" font-size="10.60" style="fill:#1a1a1a;stroke:#1a1a1a;stroke-width:0.25px">15</text>
<line x1="289.5" y1="397.5" x2="289.5" y2="400.5" stroke="#333" stroke-width="1"/>
<text x="289.50" y="412.00" text-anchor="middle" font-size="10.60" style="fill:#1a1a1a;stroke:#1a1a1a;stroke-width:0.25px">20</text>
<line x1="35.5" y1="189.5" x2="38.5" y2="189.5" stroke="#333" stroke-width="1"/>
<text x="33.10" y="193.80" text-anchor="end" font-size="10.60" style="fill:#1a1a1a;stroke:#1a1a1a;stroke-width:0.25px">0</text>
<line x1="35.5" y1="140.7" x2="38.5" y2="140.7" stroke="#333" stroke-width="1"/>
<text x="33.10" y="145.00" text-anchor="end" font-size="10.60" style="fill:#1a1a1a;stroke:#1a1a1a;stroke-width:0.25px">5</text>
<line x1="35.5" y1="91.9" x2="38.5" y2="91.9" stroke="#333" stroke-width="1"/>
<text x="33.10" y="96.20" text-anchor="end" font-size="10.60" style="fill:#1a1a1a;stroke:#1a1a1a;stroke-width:0.25px">10</text>
<line x1="35.5" y1="43.1" x2="38.5" y2="43.1" stroke="#333" stroke-width="1"/>
<text x="33.10" y="47.40" text-anchor="end" font-size="10.60" style="fill:#1a1a1a;stroke:#1a1a1a;stroke-width:0.25px">15</text>
<line x1="311.0" y1="189.5" x2="314.0" y2="189.5" stroke="#333" stroke-width="1"/>
<text x="308.60" y="193.80" text-anchor="end" font-size="10.60" style="fill:#1a1a1a;stroke:#1a1a1a;stroke-width:0.25px">0</text>
<line x1="311.0" y1="147.3" x2="314.0" y2="147.3" stroke="#333" stroke-width="1"/>
<text x="308.60" y="151.65" text-anchor="end" font-size="10.60" style="fill:#1a1a1a;stroke:#1a1a1a;stroke-width:0.25px">5</text>
<line x1="311.0" y1="105.2" x2="314.0" y2="105.2" stroke="#333" stroke-width="1"/>
<text x="308.60" y="109.50" text-anchor="end" font-size="10.60" style="fill:#1a1a1a;stroke:#1a1a1a;stroke-width:0.25px">10</text>
<line x1="311.0" y1="63.1" x2="314.0" y2="63.1" stroke="#333" stroke-width="1"/>
<text x="308.60" y="67.35" text-anchor="end" font-size="10.60" style="fill:#1a1a1a;stroke:#1a1a1a;stroke-width:0.25px">15</text>
<line x1="311.0" y1="20.9" x2="314.0" y2="20.9" stroke="#333" stroke-width="1"/>
<text x="308.60" y="25.20" text-anchor="end" font-size="10.60" style="fill:#1a1a1a;stroke:#1a1a1a;stroke-width:0.25px">20</text>
<line x1="35.5" y1="397.5" x2="38.5" y2="397.5" stroke="#333" stroke-width="1"/>
<text x="33.10" y="401.80" text-anchor="end" font-size="10.60" style="fill:#1a1a1a;stroke:#1a1a1a;stroke-width:0.25px">0</text>
<line x1="35.5" y1="334.5" x2="38.5" y2="334.5" stroke="#333" stroke-width="1"/>
<text x="33.10" y="338.80" text-anchor="end" font-size="10.60" style="fill:#1a1a1a;stroke:#1a1a1a;stroke-width:0.25px">5</text>
<line x1="35.5" y1="271.5" x2="38.5" y2="271.5" stroke="#333" stroke-width="1"/>
<text x="33.10" y="275.80" text-anchor="end" font-size="10.60" style="fill:#1a1a1a;stroke:#1a1a1a;stroke-width:0.25px">10</text>
<text x="41.00" y="17.00" text-anchor="start" font-size="10.40" style="fill:#1a1a1a;stroke:#1a1a1a;stroke-width:0.25px">(a) SOS</text>
<text x="316.80" y="17.00" text-anchor="start" font-size="10.40" style="fill:#1a1a1a;stroke:#1a1a1a;stroke-width:0.25px">(b) EOS</text>
<text x="41.00" y="225.70" text-anchor="start" font-size="10.40" style="fill:#1a1a1a;stroke:#1a1a1a;stroke-width:0.25px">(c) LOS</text>
<text x="439.40" y="216.80" text-anchor="middle" font-size="11.00" style="fill:#1a1a1a;stroke:#1a1a1a;stroke-width:0.25px">Trends (days per decade)</text>
<text x="164.40" y="425.00" text-anchor="middle" font-size="11.00" style="fill:#1a1a1a;stroke:#1a1a1a;stroke-width:0.25px">Trends (days per decade)</text>
<text x="0.00" y="0.00" transform="translate(15.20,96.00) rotate(-90)" text-anchor="middle" font-size="11.30" style="fill:#1a1a1a;stroke:#1a1a1a;stroke-width:0.25px">Frequency (%)</text>
<text x="0.00" y="0.00" transform="translate(15.20,305.00) rotate(-90)" text-anchor="middle" font-size="11.30" style="fill:#1a1a1a;stroke:#1a1a1a;stroke-width:0.25px">Frequency (%)</text>
<rect x="56" y="32.5" width="16.5" height="12" fill="#96e6e8" stroke="#12bac1" stroke-width="1.3"/>
<rect x="56" y="46" width="16.5" height="12.5" fill="#fcc1c4" stroke="#e96a74" stroke-width="1.3"/>
<text x="75.00" y="42.50" text-anchor="start" font-size="10.20" style="fill:#1a1a1a;stroke:#1a1a1a;stroke-width:0.25px">1948-1981</text>
<text x="75.00" y="55.50" text-anchor="start" font-size="10.20" style="fill:#1a1a1a;stroke:#1a1a1a;stroke-width:0.25px">1982-2016</text>
<text x="97.30" y="87.50" text-anchor="end" font-size="10.45" style="fill:#25c2c7;stroke:#25c2c7;stroke-width:0.25px">0.01 ± 2.38</text>
<text x="97.30" y="102.10" text-anchor="end" font-size="10.45" style="fill:#e6625f;stroke:#e6625f;stroke-width:0.25px">-1.01 ± 2.67</text>
<text x="101.30" y="95.70" text-anchor="middle" font-size="12.00" font-weight="bold" style="fill:#111;stroke:#111;stroke-width:0.25px">*</text><text x="107.50" y="95.70" text-anchor="middle" font-size="12.00" font-weight="bold" style="fill:#111;stroke:#111;stroke-width:0.25px">*</text>
<text x="374.00" y="87.70" text-anchor="end" font-size="10.45" style="fill:#25c2c7;stroke:#25c2c7;stroke-width:0.25px">-0.66 ± 2.48</text>
<text x="373.50" y="102.30" text-anchor="end" font-size="10.45" style="fill:#e6625f;stroke:#e6625f;stroke-width:0.25px">2.14 ± 2.55</text>
<text x="379.80" y="96.40" text-anchor="middle" font-size="12.00" font-weight="bold" style="fill:#111;stroke:#111;stroke-width:0.25px">*</text><text x="386.00" y="96.40" text-anchor="middle" font-size="12.00" font-weight="bold" style="fill:#111;stroke:#111;stroke-width:0.25px">*</text>
<text x="97.30" y="294.30" text-anchor="end" font-size="10.45" style="fill:#25c2c7;stroke:#25c2c7;stroke-width:0.25px">-0.68 ± 3.51</text>
<text x="97.30" y="308.80" text-anchor="end" font-size="10.45" style="fill:#e6625f;stroke:#e6625f;stroke-width:0.25px">3.15 ± 3.50</text>
<text x="101.20" y="303.20" text-anchor="middle" font-size="12.00" font-weight="bold" style="fill:#111;stroke:#111;stroke-width:0.25px">*</text><text x="107.40" y="303.20" text-anchor="middle" font-size="12.00" font-weight="bold" style="fill:#111;stroke:#111;stroke-width:0.25px">*</text>
<rect x="345" y="49.6" width="1.2" height="1.4" fill="#7fd3c8"/>
</svg>
</body></html>
